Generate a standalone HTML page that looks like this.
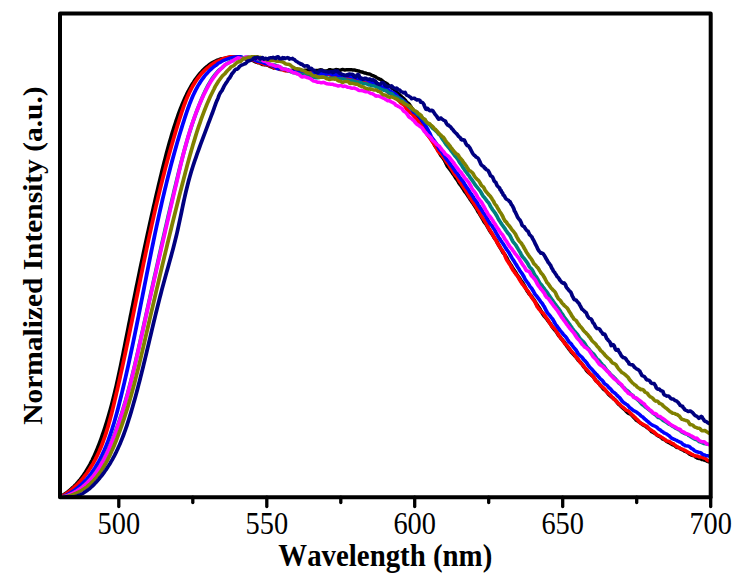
<!DOCTYPE html>
<html lang="en"><head><meta charset="utf-8"><title>Normalized Intensity vs Wavelength</title>
<style>html,body{margin:0;padding:0;background:#fff;}body{width:749px;height:581px;overflow:hidden;}svg{display:block;}</style></head>
<body>
<svg width="749" height="581" viewBox="0 0 749 581" role="img" aria-label="Normalized intensity versus wavelength spectra">
<rect x="0" y="0" width="749" height="581" fill="#ffffff"/>
<g fill="none" stroke-width="3.4" stroke-linejoin="round" stroke-linecap="round" transform="scale(1.12,1)">
<path stroke="#000000" d="M53.57,496.8 L54.24,496.6 L54.91,496.1 L55.58,495.6 L56.25,495.2 L56.92,494.7 L57.59,494.2 L58.26,493.7 L58.93,493.1 L59.60,492.6 L60.27,492.0 L60.94,491.4 L61.61,490.8 L62.28,490.2 L62.95,489.6 L63.62,488.9 L64.29,488.2 L64.96,487.5 L65.62,486.8 L66.29,486.1 L66.96,485.3 L67.63,484.6 L68.30,483.8 L68.97,482.9 L69.64,482.1 L70.31,481.2 L70.98,480.3 L71.65,479.4 L72.32,478.4 L72.99,477.5 L73.66,476.4 L74.33,475.4 L75.00,474.3 L75.67,473.2 L76.34,472.1 L77.01,470.9 L77.68,469.7 L78.35,468.4 L79.02,467.2 L79.69,465.8 L80.36,464.5 L81.03,463.0 L81.70,461.6 L82.37,460.1 L83.04,458.5 L83.71,457.0 L84.37,455.3 L85.04,453.6 L85.71,451.9 L86.38,450.1 L87.05,448.3 L87.72,446.4 L88.39,444.5 L89.06,442.5 L89.73,440.5 L90.40,438.4 L91.07,436.3 L91.74,434.1 L92.41,431.9 L93.08,429.7 L93.75,427.4 L94.42,425.1 L95.09,422.7 L95.76,420.2 L96.43,417.7 L97.10,415.1 L97.77,412.5 L98.44,409.8 L99.11,407.1 L99.78,404.3 L100.45,401.4 L101.12,398.4 L101.79,395.4 L102.46,392.3 L103.12,389.2 L103.79,386.0 L104.46,382.7 L105.13,379.3 L105.80,375.9 L106.47,372.4 L107.14,368.9 L107.81,365.3 L108.48,361.6 L109.15,357.9 L109.82,354.2 L110.49,350.4 L111.16,346.7 L111.83,342.9 L112.50,339.1 L113.17,335.3 L113.84,331.5 L114.51,327.7 L115.18,323.9 L115.85,320.2 L116.52,316.4 L117.19,312.7 L117.86,308.9 L118.53,305.2 L119.20,301.4 L119.87,297.7 L120.54,294.0 L121.21,290.3 L121.87,286.6 L122.54,283.0 L123.21,279.3 L123.88,275.7 L124.55,272.0 L125.22,268.4 L125.89,264.8 L126.56,261.2 L127.23,257.7 L127.90,254.1 L128.57,250.6 L129.24,247.1 L129.91,243.6 L130.58,240.1 L131.25,236.6 L131.92,233.2 L132.59,229.7 L133.26,226.3 L133.93,222.9 L134.60,219.5 L135.27,216.2 L135.94,212.8 L136.61,209.5 L137.28,206.2 L137.95,203.0 L138.62,199.7 L139.29,196.4 L139.96,193.2 L140.62,190.0 L141.29,186.8 L141.96,183.7 L142.63,180.5 L143.30,177.4 L143.97,174.3 L144.64,171.2 L145.31,168.2 L145.98,165.2 L146.65,162.2 L147.32,159.3 L147.99,156.4 L148.66,153.5 L149.33,150.7 L150.00,147.9 L150.67,145.2 L151.34,142.5 L152.01,139.9 L152.68,137.3 L153.35,134.8 L154.02,132.3 L154.69,129.9 L155.36,127.5 L156.03,125.2 L156.70,122.9 L157.37,120.6 L158.04,118.4 L158.71,116.2 L159.37,114.1 L160.04,112.1 L160.71,110.0 L161.38,108.1 L162.05,106.2 L162.72,104.3 L163.39,102.5 L164.06,100.8 L164.73,99.1 L165.40,97.5 L166.07,95.9 L166.74,94.3 L167.41,92.8 L168.08,91.3 L168.75,89.9 L169.42,88.5 L170.09,87.2 L170.76,85.9 L171.43,84.7 L172.10,83.4 L172.77,82.3 L173.44,81.1 L174.11,80.0 L174.78,78.9 L175.45,77.9 L176.12,76.9 L176.79,75.9 L177.46,74.9 L178.12,74.0 L178.79,73.2 L179.46,72.3 L180.13,71.5 L180.80,70.7 L181.47,69.9 L182.14,69.2 L182.81,68.5 L183.48,67.8 L184.15,67.1 L184.82,66.5 L185.49,65.9 L186.16,65.3 L186.83,64.7 L187.50,64.2 L188.17,63.7 L188.84,63.2 L189.51,62.7 L190.18,62.3 L190.85,61.9 L191.52,61.5 L192.19,61.1 L192.86,60.8 L193.53,60.4 L194.20,60.1 L194.87,59.8 L195.54,59.6 L196.21,59.3 L196.87,59.0 L197.54,58.8 L198.21,58.7 L198.88,58.7 L199.55,58.6 L200.22,58.5 L200.89,58.2 L201.56,58.0 L202.23,57.9 L202.90,57.6 L203.57,57.5 L204.24,57.3 L204.91,57.3 L205.58,57.1 L206.25,56.9 L206.92,56.8 L207.59,56.8 L208.26,56.8 L208.93,56.9 L209.60,56.9 L210.27,57.0 L210.94,56.8 L211.61,56.8 L212.28,56.8 L212.95,56.9 L213.62,57.2 L214.29,57.2 L214.96,57.3 L215.62,57.5 L216.29,58.0 L216.96,58.3 L217.63,58.5 L218.30,58.6 L218.97,58.8 L219.64,59.1 L220.31,59.5 L220.98,59.6 L221.65,59.7 L222.32,59.7 L222.99,59.6 L223.66,59.9 L224.33,60.1 L225.00,60.2 L225.67,60.5 L226.34,60.7 L227.01,61.3 L227.68,61.6 L228.35,61.9 L229.02,62.3 L229.69,62.4 L230.36,62.8 L231.03,62.6 L231.70,62.8 L232.37,63.1 L233.04,63.8 L233.71,64.1 L234.37,64.5 L235.04,64.5 L235.71,64.7 L236.38,64.6 L237.05,64.8 L237.72,64.8 L238.39,65.0 L239.06,65.2 L239.73,65.6 L240.40,66.0 L241.07,66.6 L241.74,66.7 L242.41,66.7 L243.08,67.2 L243.75,67.6 L244.42,68.0 L245.09,67.9 L245.76,67.9 L246.43,68.0 L247.10,68.3 L247.77,68.4 L248.44,68.6 L249.11,68.8 L249.78,69.3 L250.45,69.5 L251.12,69.5 L251.79,69.4 L252.46,69.5 L253.12,69.5 L253.79,69.9 L254.46,70.2 L255.13,70.5 L255.80,70.5 L256.47,70.6 L257.14,70.7 L257.81,70.9 L258.48,71.0 L259.15,71.2 L259.82,70.7 L260.49,70.3 L261.16,70.3 L261.83,70.6 L262.50,70.5 L263.17,70.5 L263.84,70.4 L264.51,70.4 L265.18,70.4 L265.85,70.8 L266.52,71.2 L267.19,71.2 L267.86,71.2 L268.53,71.0 L269.20,70.7 L269.87,70.5 L270.54,70.5 L271.21,70.5 L271.88,70.2 L272.54,70.2 L273.21,70.3 L273.88,70.3 L274.55,70.1 L275.22,70.2 L275.89,70.4 L276.56,70.6 L277.23,71.0 L277.90,71.5 L278.57,71.5 L279.24,71.3 L279.91,71.3 L280.58,71.3 L281.25,71.0 L281.92,70.4 L282.59,70.5 L283.26,70.5 L283.93,70.6 L284.60,70.4 L285.27,70.0 L285.94,69.9 L286.61,69.8 L287.28,70.0 L287.95,70.4 L288.62,70.7 L289.29,71.0 L289.96,71.0 L290.62,71.2 L291.29,71.1 L291.96,70.8 L292.63,70.5 L293.30,70.2 L293.97,69.8 L294.64,69.7 L295.31,69.9 L295.98,70.1 L296.65,70.1 L297.32,70.2 L297.99,70.2 L298.66,70.1 L299.33,69.8 L300.00,69.5 L300.67,69.6 L301.34,69.7 L302.01,69.9 L302.68,70.1 L303.35,70.2 L304.02,70.2 L304.69,69.9 L305.36,69.7 L306.03,69.5 L306.70,69.6 L307.37,69.8 L308.04,70.0 L308.71,69.9 L309.37,69.7 L310.04,69.6 L310.71,69.6 L311.38,69.8 L312.05,69.8 L312.72,69.7 L313.39,69.6 L314.06,69.7 L314.73,70.0 L315.40,69.9 L316.07,70.0 L316.74,70.0 L317.41,70.4 L318.08,70.5 L318.75,70.8 L319.42,70.8 L320.09,71.0 L320.76,71.2 L321.43,71.6 L322.10,71.9 L322.77,72.1 L323.44,71.9 L324.11,72.4 L324.78,72.6 L325.45,73.0 L326.12,73.0 L326.79,73.2 L327.46,73.6 L328.12,73.7 L328.79,73.9 L329.46,74.0 L330.13,74.2 L330.80,74.4 L331.47,75.0 L332.14,75.4 L332.81,75.6 L333.48,75.9 L334.15,76.2 L334.82,76.5 L335.49,76.9 L336.16,77.5 L336.83,78.0 L337.50,78.4 L338.17,78.6 L338.84,79.1 L339.51,79.3 L340.18,79.7 L340.85,80.3 L341.52,81.0 L342.19,81.6 L342.86,82.2 L343.53,82.6 L344.20,82.9 L344.87,83.3 L345.54,83.8 L346.21,84.5 L346.87,85.3 L347.54,86.1 L348.21,86.2 L348.88,86.6 L349.55,87.5 L350.22,88.3 L350.89,88.9 L351.56,89.3 L352.23,89.7 L352.90,90.5 L353.57,91.3 L354.24,92.3 L354.91,92.9 L355.58,93.7 L356.25,94.3 L356.92,95.2 L357.59,95.6 L358.26,96.6 L358.93,97.2 L359.60,97.9 L360.27,98.4 L360.94,99.2 L361.61,99.9 L362.28,101.0 L362.95,101.8 L363.62,102.7 L364.29,103.1 L364.96,103.7 L365.62,104.7 L366.29,105.8 L366.96,106.9 L367.63,108.2 L368.30,109.1 L368.97,110.2 L369.64,111.5 L370.31,112.7 L370.98,113.8 L371.65,114.5 L372.32,116.0 L372.99,117.1 L373.66,118.1 L374.33,119.1 L375.00,120.4 L375.67,121.6 L376.34,122.8 L377.01,123.7 L377.68,125.1 L378.35,126.4 L379.02,127.7 L379.69,128.9 L380.36,130.0 L381.03,131.7 L381.70,133.1 L382.37,134.3 L383.04,135.6 L383.71,136.8 L384.37,137.9 L385.04,138.9 L385.71,140.2 L386.38,141.4 L387.05,142.8 L387.72,144.2 L388.39,145.8 L389.06,147.0 L389.73,147.9 L390.40,148.9 L391.07,150.1 L391.74,151.3 L392.41,152.8 L393.08,154.3 L393.75,155.6 L394.42,156.5 L395.09,157.3 L395.76,158.4 L396.43,159.5 L397.10,160.7 L397.77,162.2 L398.44,163.9 L399.11,165.4 L399.78,166.7 L400.45,167.6 L401.12,168.6 L401.79,169.5 L402.46,170.5 L403.12,171.6 L403.79,172.6 L404.46,173.9 L405.13,174.9 L405.80,175.9 L406.47,177.1 L407.14,178.3 L407.81,179.4 L408.48,180.4 L409.15,181.5 L409.82,183.2 L410.49,184.0 L411.16,185.1 L411.83,186.0 L412.50,187.2 L413.17,188.3 L413.84,189.3 L414.51,190.7 L415.18,191.8 L415.85,192.6 L416.52,193.7 L417.19,194.7 L417.86,196.0 L418.53,197.0 L419.20,198.1 L419.87,199.5 L420.54,200.4 L421.21,201.6 L421.87,202.7 L422.54,203.6 L423.21,204.8 L423.88,205.9 L424.55,207.2 L425.22,208.3 L425.89,209.5 L426.56,211.1 L427.23,212.3 L427.90,213.3 L428.57,214.6 L429.24,215.8 L429.91,217.2 L430.58,218.5 L431.25,219.7 L431.92,221.1 L432.59,222.3 L433.26,223.3 L433.93,224.2 L434.60,225.3 L435.27,226.7 L435.94,228.1 L436.61,229.2 L437.28,230.7 L437.95,231.7 L438.62,233.1 L439.29,234.0 L439.96,235.2 L440.62,236.3 L441.29,237.8 L441.96,238.9 L442.63,239.9 L443.30,240.7 L443.97,242.5 L444.64,243.9 L445.31,245.1 L445.98,246.4 L446.65,247.7 L447.32,249.0 L447.99,250.2 L448.66,251.6 L449.33,252.9 L450.00,253.7 L450.67,254.5 L451.34,255.8 L452.01,257.0 L452.68,258.5 L453.35,260.0 L454.02,261.3 L454.69,262.4 L455.36,263.8 L456.03,264.9 L456.70,266.0 L457.37,267.3 L458.04,268.5 L458.71,269.7 L459.37,270.7 L460.04,271.8 L460.71,273.1 L461.38,274.4 L462.05,275.4 L462.72,276.6 L463.39,277.4 L464.06,278.6 L464.73,279.8 L465.40,281.0 L466.07,282.1 L466.74,283.0 L467.41,284.1 L468.08,285.6 L468.75,286.9 L469.42,288.3 L470.09,289.5 L470.76,291.0 L471.43,292.0 L472.10,293.2 L472.77,294.2 L473.44,294.9 L474.11,295.7 L474.78,296.8 L475.45,298.0 L476.12,298.9 L476.79,299.8 L477.46,301.1 L478.12,302.3 L478.79,303.6 L479.46,304.8 L480.13,305.8 L480.80,307.0 L481.47,308.1 L482.14,309.2 L482.81,310.6 L483.48,311.7 L484.15,313.1 L484.82,314.3 L485.49,315.5 L486.16,316.4 L486.83,317.2 L487.50,318.1 L488.17,319.1 L488.84,320.0 L489.51,321.1 L490.18,322.1 L490.85,323.1 L491.52,324.0 L492.19,325.2 L492.86,326.4 L493.53,327.5 L494.20,328.4 L494.87,329.4 L495.54,330.3 L496.21,331.2 L496.87,331.9 L497.54,333.1 L498.21,334.4 L498.88,335.6 L499.55,336.4 L500.22,337.2 L500.89,338.4 L501.56,339.3 L502.23,340.0 L502.90,341.1 L503.57,341.8 L504.24,342.8 L504.91,344.0 L505.58,345.1 L506.25,346.3 L506.92,347.1 L507.59,348.3 L508.26,349.4 L508.93,350.2 L509.60,351.2 L510.27,352.3 L510.94,353.0 L511.61,353.8 L512.28,354.6 L512.95,355.5 L513.62,356.2 L514.29,356.9 L514.96,358.0 L515.62,359.0 L516.29,360.2 L516.96,360.9 L517.63,361.6 L518.30,362.4 L518.97,363.2 L519.64,364.0 L520.31,365.2 L520.98,366.4 L521.65,367.3 L522.32,368.0 L522.99,369.2 L523.66,370.4 L524.33,371.3 L525.00,372.0 L525.67,372.8 L526.34,373.4 L527.01,374.1 L527.68,374.7 L528.35,375.5 L529.02,376.1 L529.69,376.8 L530.36,377.6 L531.03,379.1 L531.70,380.0 L532.37,381.0 L533.04,381.4 L533.71,382.2 L534.38,383.0 L535.04,383.9 L535.71,384.9 L536.38,385.8 L537.05,386.7 L537.72,387.6 L538.39,388.6 L539.06,389.3 L539.73,390.0 L540.40,390.5 L541.07,391.1 L541.74,391.9 L542.41,392.9 L543.08,393.9 L543.75,394.8 L544.42,395.4 L545.09,396.2 L545.76,396.7 L546.43,397.3 L547.10,397.8 L547.77,398.5 L548.44,399.2 L549.11,399.8 L549.78,400.7 L550.45,401.4 L551.12,402.5 L551.79,403.5 L552.46,404.3 L553.12,405.0 L553.79,405.5 L554.46,406.3 L555.13,407.1 L555.80,407.8 L556.47,408.4 L557.14,409.0 L557.81,409.7 L558.48,410.5 L559.15,411.3 L559.82,412.0 L560.49,412.7 L561.16,413.4 L561.83,413.7 L562.50,413.9 L563.17,414.4 L563.84,414.9 L564.51,415.7 L565.18,416.6 L565.85,417.3 L566.52,418.1 L567.19,418.9 L567.86,419.9 L568.53,420.5 L569.20,420.9 L569.87,421.4 L570.54,422.0 L571.21,422.4 L571.88,423.1 L572.54,423.6 L573.21,424.2 L573.88,424.8 L574.55,425.2 L575.22,425.7 L575.89,425.9 L576.56,426.4 L577.23,427.0 L577.90,427.7 L578.57,428.1 L579.24,428.7 L579.91,429.2 L580.58,430.1 L581.25,430.7 L581.92,431.7 L582.59,432.1 L583.26,432.3 L583.93,432.9 L584.60,433.4 L585.27,433.9 L585.94,434.3 L586.61,435.1 L587.28,435.6 L587.95,436.1 L588.62,436.5 L589.29,436.8 L589.96,437.2 L590.62,437.9 L591.29,438.5 L591.96,439.2 L592.63,439.4 L593.30,439.8 L593.97,440.0 L594.64,440.8 L595.31,441.5 L595.98,442.0 L596.65,442.3 L597.32,442.7 L597.99,443.0 L598.66,443.6 L599.33,444.0 L600.00,444.5 L600.67,444.7 L601.34,445.2 L602.01,445.4 L602.68,445.8 L603.35,446.6 L604.02,447.2 L604.69,447.6 L605.36,447.4 L606.03,447.6 L606.70,448.0 L607.37,448.5 L608.04,449.2 L608.71,449.6 L609.37,449.8 L610.04,450.2 L610.71,450.5 L611.38,451.2 L612.05,451.5 L612.72,451.8 L613.39,452.0 L614.06,452.6 L614.73,453.2 L615.40,453.8 L616.07,454.4 L616.74,454.6 L617.41,455.1 L618.08,455.3 L618.75,455.5 L619.42,455.7 L620.09,455.9 L620.76,456.6 L621.43,457.4 L622.10,457.6 L622.77,458.2 L623.44,458.4 L624.11,458.5 L624.78,458.6 L625.45,458.7 L626.12,459.1 L626.79,459.6 L627.46,459.5 L628.12,459.8 L628.79,460.0 L629.46,460.3 L630.13,460.5 L630.80,460.9 L631.47,461.3 L632.14,461.5 L632.81,461.6 L633.48,462.1"/>
<path stroke="#ff0000" d="M54.46,496.8 L55.13,496.5 L55.80,496.1 L56.47,495.6 L57.14,495.1 L57.81,494.6 L58.48,494.1 L59.15,493.6 L59.82,493.1 L60.49,492.5 L61.16,491.9 L61.83,491.4 L62.50,490.8 L63.17,490.2 L63.84,489.6 L64.51,488.9 L65.18,488.3 L65.85,487.6 L66.52,487.0 L67.19,486.3 L67.86,485.6 L68.53,484.9 L69.20,484.1 L69.87,483.4 L70.54,482.6 L71.21,481.8 L71.88,481.0 L72.54,480.1 L73.21,479.3 L73.88,478.4 L74.55,477.5 L75.22,476.5 L75.89,475.6 L76.56,474.6 L77.23,473.6 L77.90,472.6 L78.57,471.5 L79.24,470.4 L79.91,469.3 L80.58,468.1 L81.25,466.9 L81.92,465.7 L82.59,464.5 L83.26,463.2 L83.93,461.8 L84.60,460.4 L85.27,459.0 L85.94,457.5 L86.61,456.0 L87.28,454.4 L87.95,452.8 L88.62,451.2 L89.29,449.4 L89.96,447.6 L90.62,445.8 L91.29,443.9 L91.96,441.9 L92.63,439.8 L93.30,437.7 L93.97,435.5 L94.64,433.2 L95.31,430.8 L95.98,428.4 L96.65,425.8 L97.32,423.2 L97.99,420.5 L98.66,417.7 L99.33,414.8 L100.00,411.9 L100.67,408.9 L101.34,405.8 L102.01,402.6 L102.68,399.5 L103.35,396.3 L104.02,393.0 L104.69,389.8 L105.36,386.5 L106.03,383.2 L106.70,379.8 L107.37,376.4 L108.04,373.0 L108.71,369.6 L109.37,366.2 L110.04,362.7 L110.71,359.2 L111.38,355.7 L112.05,352.1 L112.72,348.6 L113.39,345.0 L114.06,341.4 L114.73,337.7 L115.40,334.1 L116.07,330.4 L116.74,326.8 L117.41,323.1 L118.08,319.4 L118.75,315.7 L119.42,312.0 L120.09,308.3 L120.76,304.5 L121.43,300.8 L122.10,297.1 L122.77,293.4 L123.44,289.6 L124.11,285.9 L124.78,282.2 L125.45,278.5 L126.12,274.8 L126.79,271.1 L127.46,267.5 L128.12,263.8 L128.79,260.2 L129.46,256.6 L130.13,253.0 L130.80,249.4 L131.47,245.9 L132.14,242.3 L132.81,238.8 L133.48,235.3 L134.15,231.9 L134.82,228.4 L135.49,225.0 L136.16,221.7 L136.83,218.3 L137.50,215.0 L138.17,211.7 L138.84,208.4 L139.51,205.2 L140.18,202.0 L140.85,198.8 L141.52,195.7 L142.19,192.6 L142.86,189.5 L143.53,186.4 L144.20,183.4 L144.87,180.4 L145.54,177.4 L146.21,174.5 L146.88,171.6 L147.54,168.7 L148.21,165.9 L148.88,163.0 L149.55,160.2 L150.22,157.5 L150.89,154.7 L151.56,152.0 L152.23,149.4 L152.90,146.7 L153.57,144.1 L154.24,141.5 L154.91,138.9 L155.58,136.3 L156.25,133.8 L156.92,131.3 L157.59,128.8 L158.26,126.3 L158.93,123.9 L159.60,121.5 L160.27,119.1 L160.94,116.7 L161.61,114.4 L162.28,112.1 L162.95,109.9 L163.62,107.7 L164.29,105.6 L164.96,103.6 L165.62,101.6 L166.29,99.7 L166.96,97.9 L167.63,96.1 L168.30,94.5 L168.97,92.8 L169.64,91.3 L170.31,89.8 L170.98,88.3 L171.65,87.0 L172.32,85.6 L172.99,84.4 L173.66,83.1 L174.33,82.0 L175.00,80.8 L175.67,79.7 L176.34,78.7 L177.01,77.7 L177.68,76.7 L178.35,75.8 L179.02,74.9 L179.69,74.0 L180.36,73.2 L181.03,72.4 L181.70,71.6 L182.37,70.8 L183.04,70.1 L183.71,69.4 L184.37,68.8 L185.04,68.1 L185.71,67.5 L186.38,66.9 L187.05,66.3 L187.72,65.7 L188.39,65.2 L189.06,64.7 L189.73,64.1 L190.40,63.6 L191.07,63.1 L191.74,62.6 L192.41,62.1 L193.08,61.7 L193.75,61.4 L194.42,61.1 L195.09,60.8 L195.76,60.4 L196.43,60.1 L197.10,59.8 L197.77,59.4 L198.44,59.1 L199.11,58.6 L199.78,58.3 L200.45,58.1 L201.12,58.1 L201.79,57.9 L202.46,57.6 L203.12,57.4 L203.79,57.3 L204.46,57.1 L205.13,56.9 L205.80,56.8 L206.47,56.8 L207.14,56.8 L207.81,56.8 L208.48,56.8 L209.15,56.9 L209.82,56.9 L210.49,57.0 L211.16,57.1 L211.83,57.3 L212.50,57.6 L213.17,57.7 L213.84,57.7 L214.51,57.8 L215.18,57.9 L215.85,58.1 L216.52,58.2 L217.19,58.1 L217.86,58.1 L218.53,58.2 L219.20,58.5 L219.87,58.9 L220.54,59.0 L221.21,59.1 L221.87,59.2 L222.54,59.4 L223.21,59.6 L223.88,59.6 L224.55,59.9 L225.22,60.0 L225.89,60.1 L226.56,60.4 L227.23,60.5 L227.90,60.9 L228.57,61.2 L229.24,61.7 L229.91,62.1 L230.58,62.4 L231.25,62.6 L231.92,62.8 L232.59,62.8 L233.26,63.2 L233.93,63.4 L234.60,63.8 L235.27,64.2 L235.94,64.5 L236.61,64.6 L237.28,64.6 L237.95,64.6 L238.62,64.7 L239.29,64.9 L239.96,65.3 L240.62,65.7 L241.29,65.8 L241.96,65.9 L242.63,66.1 L243.30,66.3 L243.97,67.0 L244.64,67.7 L245.31,68.0 L245.98,68.0 L246.65,67.9 L247.32,68.1 L247.99,68.2 L248.66,68.5 L249.33,69.0 L250.00,69.1 L250.67,69.4 L251.34,69.4 L252.01,69.7 L252.68,69.9 L253.35,70.3 L254.02,70.6 L254.69,70.7 L255.36,70.8 L256.03,70.9 L256.70,70.6 L257.37,70.5 L258.04,70.7 L258.71,70.6 L259.38,70.9 L260.04,71.0 L260.71,71.6 L261.38,71.8 L262.05,71.8 L262.72,71.8 L263.39,71.9 L264.06,71.9 L264.73,72.3 L265.40,72.0 L266.07,72.2 L266.74,72.5 L267.41,72.6 L268.08,72.7 L268.75,72.6 L269.42,72.6 L270.09,73.0 L270.76,73.2 L271.43,73.4 L272.10,73.4 L272.77,73.2 L273.44,73.6 L274.11,73.5 L274.78,73.5 L275.45,73.3 L276.12,73.1 L276.79,73.1 L277.46,72.8 L278.12,72.9 L278.79,73.1 L279.46,73.5 L280.13,73.9 L280.80,73.8 L281.47,73.4 L282.14,73.5 L282.81,73.2 L283.48,73.7 L284.15,73.7 L284.82,74.0 L285.49,73.8 L286.16,73.5 L286.83,73.7 L287.50,73.8 L288.17,73.9 L288.84,73.9 L289.51,73.7 L290.18,74.0 L290.85,74.0 L291.52,74.1 L292.19,74.4 L292.86,74.6 L293.53,74.6 L294.20,74.6 L294.87,74.9 L295.54,75.8 L296.21,75.9 L296.88,76.0 L297.54,76.1 L298.21,76.4 L298.88,76.3 L299.55,76.1 L300.22,76.3 L300.89,76.4 L301.56,76.5 L302.23,76.7 L302.90,76.9 L303.57,76.8 L304.24,76.8 L304.91,76.5 L305.58,76.9 L306.25,77.1 L306.92,77.4 L307.59,77.5 L308.26,77.4 L308.93,77.3 L309.60,77.3 L310.27,77.3 L310.94,77.4 L311.61,77.6 L312.28,78.0 L312.95,78.1 L313.62,78.3 L314.29,78.5 L314.96,79.0 L315.62,79.5 L316.29,79.6 L316.96,79.9 L317.63,79.8 L318.30,79.6 L318.97,79.9 L319.64,80.3 L320.31,80.3 L320.98,80.3 L321.65,80.1 L322.32,80.4 L322.99,80.7 L323.66,80.8 L324.33,81.1 L325.00,81.4 L325.67,81.5 L326.34,82.0 L327.01,82.0 L327.68,82.1 L328.35,82.2 L329.02,82.4 L329.69,82.9 L330.36,83.4 L331.03,83.6 L331.70,83.7 L332.37,83.6 L333.04,84.0 L333.71,84.4 L334.37,84.6 L335.04,84.8 L335.71,85.0 L336.38,84.9 L337.05,85.3 L337.72,85.7 L338.39,86.3 L339.06,86.6 L339.73,86.9 L340.40,87.5 L341.07,87.9 L341.74,88.3 L342.41,88.9 L343.08,89.2 L343.75,89.8 L344.42,90.5 L345.09,91.0 L345.76,91.7 L346.43,92.2 L347.10,92.9 L347.77,93.7 L348.44,93.9 L349.11,94.3 L349.78,94.5 L350.45,95.0 L351.12,95.8 L351.79,96.8 L352.46,97.7 L353.12,98.5 L353.79,98.9 L354.46,99.3 L355.13,99.9 L355.80,100.3 L356.47,101.2 L357.14,102.0 L357.81,102.8 L358.48,103.3 L359.15,103.8 L359.82,104.3 L360.49,104.8 L361.16,105.6 L361.83,106.6 L362.50,107.9 L363.17,109.0 L363.84,110.1 L364.51,110.9 L365.18,111.7 L365.85,112.3 L366.52,112.8 L367.19,113.4 L367.86,114.1 L368.53,114.6 L369.20,115.5 L369.87,116.3 L370.54,117.5 L371.21,118.4 L371.87,119.2 L372.54,120.0 L373.21,120.9 L373.88,122.1 L374.55,123.2 L375.22,124.2 L375.89,125.1 L376.56,126.0 L377.23,127.3 L377.90,128.7 L378.57,129.8 L379.24,130.8 L379.91,131.8 L380.58,133.2 L381.25,134.4 L381.92,135.4 L382.59,136.2 L383.26,137.2 L383.93,138.1 L384.60,139.3 L385.27,140.3 L385.94,141.5 L386.61,142.6 L387.28,143.6 L387.95,144.9 L388.62,145.9 L389.29,147.1 L389.96,148.5 L390.62,150.2 L391.29,151.4 L391.96,152.2 L392.63,152.9 L393.30,153.8 L393.97,154.4 L394.64,155.2 L395.31,156.4 L395.98,157.4 L396.65,158.3 L397.32,159.3 L397.99,160.7 L398.66,161.9 L399.33,162.8 L400.00,163.6 L400.67,164.7 L401.34,165.9 L402.01,167.3 L402.68,168.5 L403.35,169.5 L404.02,170.5 L404.69,171.9 L405.36,173.1 L406.03,174.4 L406.70,175.4 L407.37,176.2 L408.04,176.8 L408.71,178.0 L409.37,179.5 L410.04,180.9 L410.71,182.1 L411.38,183.0 L412.05,184.2 L412.72,185.2 L413.39,186.4 L414.06,187.7 L414.73,188.8 L415.40,189.7 L416.07,190.9 L416.74,192.2 L417.41,193.6 L418.08,194.7 L418.75,196.0 L419.42,197.5 L420.09,198.3 L420.76,199.3 L421.43,200.4 L422.10,201.7 L422.77,202.8 L423.44,203.9 L424.11,205.1 L424.78,206.2 L425.45,207.3 L426.12,208.8 L426.79,209.8 L427.46,210.9 L428.12,212.4 L428.79,214.0 L429.46,215.4 L430.13,216.3 L430.80,217.6 L431.47,218.7 L432.14,219.7 L432.81,221.0 L433.48,222.3 L434.15,223.5 L434.82,224.9 L435.49,226.4 L436.16,228.0 L436.83,229.3 L437.50,230.3 L438.17,231.6 L438.84,232.6 L439.51,233.8 L440.18,235.3 L440.85,236.6 L441.52,237.8 L442.19,239.1 L442.86,240.3 L443.53,241.8 L444.20,243.1 L444.87,244.4 L445.54,245.6 L446.21,246.8 L446.87,248.1 L447.54,249.1 L448.21,250.1 L448.88,251.1 L449.55,252.5 L450.22,253.8 L450.89,255.7 L451.56,257.6 L452.23,259.3 L452.90,260.6 L453.57,261.7 L454.24,262.9 L454.91,264.1 L455.58,265.1 L456.25,266.6 L456.92,267.9 L457.59,269.2 L458.26,270.6 L458.93,271.3 L459.60,272.6 L460.27,273.4 L460.94,274.7 L461.61,275.6 L462.28,276.5 L462.95,277.8 L463.62,279.1 L464.29,280.3 L464.96,281.6 L465.62,282.7 L466.29,284.0 L466.96,284.7 L467.63,285.6 L468.30,286.8 L468.97,287.7 L469.64,288.8 L470.31,289.8 L470.98,290.7 L471.65,291.6 L472.32,292.8 L472.99,294.2 L473.66,295.6 L474.33,296.6 L475.00,297.9 L475.67,298.9 L476.34,299.8 L477.01,300.7 L477.68,302.1 L478.35,303.5 L479.02,305.1 L479.69,306.8 L480.36,307.7 L481.03,308.8 L481.70,309.6 L482.37,310.6 L483.04,311.6 L483.71,312.3 L484.37,312.7 L485.04,313.3 L485.71,314.2 L486.38,315.5 L487.05,316.6 L487.72,317.7 L488.39,318.6 L489.06,319.7 L489.73,321.0 L490.40,322.1 L491.07,323.4 L491.74,324.5 L492.41,325.7 L493.08,326.8 L493.75,327.3 L494.42,328.0 L495.09,328.6 L495.76,329.4 L496.43,330.7 L497.10,332.0 L497.77,333.1 L498.44,334.2 L499.11,335.6 L499.78,336.8 L500.45,337.8 L501.12,338.6 L501.79,339.5 L502.46,340.3 L503.12,341.5 L503.79,342.7 L504.46,343.8 L505.13,344.5 L505.80,345.1 L506.47,345.8 L507.14,346.8 L507.81,347.7 L508.48,348.7 L509.15,349.8 L509.82,350.9 L510.49,351.7 L511.16,352.5 L511.83,353.2 L512.50,354.0 L513.17,354.9 L513.84,356.1 L514.51,357.3 L515.18,358.2 L515.85,358.8 L516.52,359.7 L517.19,361.0 L517.86,362.1 L518.53,363.1 L519.20,363.6 L519.87,364.3 L520.54,365.1 L521.21,366.1 L521.88,367.4 L522.54,368.1 L523.21,368.9 L523.88,369.5 L524.55,370.4 L525.22,371.3 L525.89,372.4 L526.56,373.5 L527.23,374.1 L527.90,374.6 L528.57,375.3 L529.24,376.1 L529.91,377.0 L530.58,378.0 L531.25,379.4 L531.92,380.5 L532.59,381.2 L533.26,382.1 L533.93,382.7 L534.60,383.6 L535.27,384.2 L535.94,385.2 L536.61,385.9 L537.28,386.4 L537.95,387.0 L538.62,387.7 L539.29,388.4 L539.96,389.2 L540.62,390.1 L541.29,391.3 L541.96,392.2 L542.63,392.8 L543.30,393.6 L543.97,394.2 L544.64,394.7 L545.31,395.4 L545.98,396.3 L546.65,397.4 L547.32,398.2 L547.99,399.1 L548.66,399.7 L549.33,400.2 L550.00,401.0 L550.67,401.9 L551.34,402.6 L552.01,403.3 L552.68,403.7 L553.35,404.5 L554.02,405.2 L554.69,406.0 L555.36,406.6 L556.03,407.1 L556.70,407.7 L557.37,408.4 L558.04,409.2 L558.71,409.9 L559.38,410.4 L560.04,410.4 L560.71,410.9 L561.38,411.3 L562.05,412.2 L562.72,413.0 L563.39,413.8 L564.06,414.5 L564.73,415.2 L565.40,415.8 L566.07,416.5 L566.74,417.3 L567.41,418.0 L568.08,418.7 L568.75,419.3 L569.42,420.1 L570.09,421.0 L570.76,421.9 L571.43,422.7 L572.10,423.2 L572.77,423.4 L573.44,423.9 L574.11,424.4 L574.78,424.7 L575.45,425.2 L576.12,425.7 L576.79,426.0 L577.46,426.2 L578.12,426.9 L578.79,428.0 L579.46,428.9 L580.13,429.4 L580.80,429.7 L581.47,430.1 L582.14,430.7 L582.81,431.1 L583.48,431.7 L584.15,432.2 L584.82,432.9 L585.49,433.7 L586.16,434.4 L586.83,435.1 L587.50,435.4 L588.17,435.5 L588.84,436.0 L589.51,436.4 L590.18,437.0 L590.85,437.3 L591.52,437.8 L592.19,438.4 L592.86,438.8 L593.53,439.3 L594.20,440.1 L594.87,440.8 L595.54,441.1 L596.21,441.1 L596.88,441.2 L597.54,441.5 L598.21,441.8 L598.88,442.6 L599.55,443.1 L600.22,443.4 L600.89,443.4 L601.56,444.2 L602.23,444.9 L602.90,445.4 L603.57,445.8 L604.24,446.6 L604.91,447.0 L605.58,447.2 L606.25,447.5 L606.92,448.2 L607.59,448.6 L608.26,448.7 L608.93,449.0 L609.60,449.4 L610.27,449.7 L610.94,450.0 L611.61,450.4 L612.28,450.8 L612.95,451.5 L613.62,451.8 L614.29,452.3 L614.96,452.6 L615.62,452.9 L616.29,453.4 L616.96,453.9 L617.63,454.2 L618.30,454.6 L618.97,454.9 L619.64,455.5 L620.31,455.9 L620.98,456.0 L621.65,455.9 L622.32,455.9 L622.99,456.1 L623.66,456.6 L624.33,457.0 L625.00,456.9 L625.67,456.9 L626.34,457.1 L627.01,457.3 L627.68,457.6 L628.35,458.1 L629.02,458.1 L629.69,458.5 L630.36,458.9 L631.03,459.9 L631.70,460.3 L632.37,460.7 L633.04,460.7 L633.71,460.9"/>
<path stroke="#0000ff" d="M55.36,496.8 L56.03,496.7 L56.70,496.4 L57.37,496.0 L58.04,495.7 L58.71,495.3 L59.37,495.0 L60.04,494.6 L60.71,494.2 L61.38,493.8 L62.05,493.4 L62.72,492.9 L63.39,492.5 L64.06,492.0 L64.73,491.5 L65.40,491.0 L66.07,490.5 L66.74,490.0 L67.41,489.4 L68.08,488.9 L68.75,488.3 L69.42,487.7 L70.09,487.1 L70.76,486.5 L71.43,485.8 L72.10,485.1 L72.77,484.4 L73.44,483.7 L74.11,483.0 L74.78,482.2 L75.45,481.5 L76.12,480.7 L76.79,479.8 L77.46,479.0 L78.12,478.1 L78.79,477.2 L79.46,476.3 L80.13,475.3 L80.80,474.4 L81.47,473.4 L82.14,472.3 L82.81,471.3 L83.48,470.2 L84.15,469.0 L84.82,467.9 L85.49,466.7 L86.16,465.4 L86.83,464.1 L87.50,462.8 L88.17,461.5 L88.84,460.1 L89.51,458.7 L90.18,457.2 L90.85,455.7 L91.52,454.1 L92.19,452.5 L92.86,450.8 L93.53,449.1 L94.20,447.3 L94.87,445.5 L95.54,443.6 L96.21,441.7 L96.87,439.7 L97.54,437.6 L98.21,435.5 L98.88,433.3 L99.55,431.0 L100.22,428.7 L100.89,426.3 L101.56,423.9 L102.23,421.3 L102.90,418.7 L103.57,416.0 L104.24,413.3 L104.91,410.5 L105.58,407.6 L106.25,404.7 L106.92,401.7 L107.59,398.6 L108.26,395.6 L108.93,392.5 L109.60,389.3 L110.27,386.2 L110.94,383.0 L111.61,379.7 L112.28,376.5 L112.95,373.2 L113.62,369.8 L114.29,366.5 L114.96,363.1 L115.62,359.6 L116.29,356.2 L116.96,352.6 L117.63,349.1 L118.30,345.6 L118.97,342.0 L119.64,338.4 L120.31,334.7 L120.98,331.0 L121.65,327.4 L122.32,323.6 L122.99,319.9 L123.66,316.2 L124.33,312.4 L125.00,308.6 L125.67,304.8 L126.34,301.0 L127.01,297.2 L127.68,293.4 L128.35,289.6 L129.02,285.8 L129.69,282.0 L130.36,278.2 L131.03,274.4 L131.70,270.6 L132.37,266.9 L133.04,263.1 L133.71,259.4 L134.38,255.7 L135.04,251.9 L135.71,248.3 L136.38,244.6 L137.05,241.0 L137.72,237.4 L138.39,233.8 L139.06,230.2 L139.73,226.7 L140.40,223.2 L141.07,219.8 L141.74,216.4 L142.41,213.0 L143.08,209.6 L143.75,206.3 L144.42,203.0 L145.09,199.7 L145.76,196.5 L146.43,193.3 L147.10,190.2 L147.77,187.1 L148.44,184.0 L149.11,180.9 L149.78,177.9 L150.45,174.9 L151.12,172.0 L151.79,169.1 L152.46,166.2 L153.12,163.4 L153.79,160.5 L154.46,157.8 L155.13,155.0 L155.80,152.3 L156.47,149.6 L157.14,147.0 L157.81,144.3 L158.48,141.7 L159.15,139.2 L159.82,136.6 L160.49,134.1 L161.16,131.6 L161.83,129.2 L162.50,126.8 L163.17,124.4 L163.84,122.0 L164.51,119.6 L165.18,117.3 L165.85,115.0 L166.52,112.8 L167.19,110.6 L167.86,108.4 L168.53,106.4 L169.20,104.3 L169.87,102.4 L170.54,100.5 L171.21,98.7 L171.87,96.9 L172.54,95.2 L173.21,93.6 L173.88,92.0 L174.55,90.5 L175.22,89.1 L175.89,87.7 L176.56,86.3 L177.23,85.0 L177.90,83.8 L178.57,82.6 L179.24,81.4 L179.91,80.3 L180.58,79.2 L181.25,78.2 L181.92,77.2 L182.59,76.2 L183.26,75.3 L183.93,74.4 L184.60,73.6 L185.27,72.8 L185.94,72.0 L186.61,71.2 L187.28,70.4 L187.95,69.7 L188.62,69.0 L189.29,68.3 L189.96,67.7 L190.62,67.1 L191.29,66.5 L191.96,65.9 L192.63,65.5 L193.30,64.9 L193.97,64.3 L194.64,63.6 L195.31,63.0 L195.98,62.7 L196.65,62.4 L197.32,62.0 L197.99,61.5 L198.66,61.0 L199.33,60.6 L200.00,60.4 L200.67,60.0 L201.34,59.9 L202.01,59.5 L202.68,59.1 L203.35,58.8 L204.02,58.6 L204.69,58.3 L205.36,58.1 L206.03,57.9 L206.70,57.9 L207.37,57.6 L208.04,57.3 L208.71,57.1 L209.37,57.1 L210.04,57.1 L210.71,56.9 L211.38,56.9 L212.05,56.9 L212.72,56.8 L213.39,56.8 L214.06,56.8 L214.73,56.8 L215.40,56.9 L216.07,57.1 L216.74,57.6 L217.41,57.6 L218.08,57.6 L218.75,57.5 L219.42,57.5 L220.09,57.5 L220.76,57.8 L221.43,57.8 L222.10,58.3 L222.77,58.5 L223.44,58.8 L224.11,59.1 L224.78,59.4 L225.45,59.4 L226.12,59.6 L226.79,59.8 L227.46,60.0 L228.12,60.5 L228.79,60.8 L229.46,61.1 L230.13,61.2 L230.80,61.4 L231.47,61.6 L232.14,61.7 L232.81,61.8 L233.48,62.2 L234.15,62.4 L234.82,62.4 L235.49,63.0 L236.16,63.3 L236.83,63.6 L237.50,63.9 L238.17,63.9 L238.84,64.0 L239.51,64.0 L240.18,64.5 L240.85,64.9 L241.52,65.0 L242.19,65.3 L242.86,65.5 L243.53,65.8 L244.20,66.2 L244.87,66.6 L245.54,67.0 L246.21,67.3 L246.87,68.1 L247.54,68.7 L248.21,68.9 L248.88,68.8 L249.55,68.6 L250.22,68.5 L250.89,68.6 L251.56,68.9 L252.23,69.1 L252.90,69.2 L253.57,69.2 L254.24,69.5 L254.91,69.6 L255.58,69.6 L256.25,69.7 L256.92,70.0 L257.59,70.2 L258.26,70.3 L258.93,70.5 L259.60,70.8 L260.27,70.8 L260.94,71.2 L261.61,71.6 L262.28,71.7 L262.95,71.7 L263.62,71.6 L264.29,72.1 L264.96,72.2 L265.62,72.1 L266.29,72.4 L266.96,72.5 L267.63,72.6 L268.30,72.5 L268.97,72.3 L269.64,72.4 L270.31,72.7 L270.98,72.9 L271.65,73.1 L272.32,73.1 L272.99,73.0 L273.66,73.0 L274.33,72.9 L275.00,73.3 L275.67,73.6 L276.34,73.3 L277.01,73.4 L277.68,73.4 L278.35,73.3 L279.02,73.4 L279.69,73.2 L280.36,73.3 L281.03,73.1 L281.70,72.8 L282.37,72.9 L283.04,73.2 L283.71,73.6 L284.38,73.8 L285.04,73.9 L285.71,73.8 L286.38,73.8 L287.05,73.6 L287.72,73.8 L288.39,73.6 L289.06,73.8 L289.73,73.9 L290.40,74.2 L291.07,74.1 L291.74,74.1 L292.41,73.7 L293.08,73.7 L293.75,73.5 L294.42,73.8 L295.09,73.8 L295.76,74.1 L296.43,74.8 L297.10,74.9 L297.77,74.5 L298.44,74.2 L299.11,74.0 L299.78,74.4 L300.45,74.5 L301.12,75.0 L301.79,75.3 L302.46,75.4 L303.12,75.7 L303.79,75.7 L304.46,75.5 L305.13,75.5 L305.80,75.5 L306.47,75.7 L307.14,75.6 L307.81,75.9 L308.48,76.0 L309.15,75.8 L309.82,75.9 L310.49,75.8 L311.16,76.0 L311.83,76.1 L312.50,76.2 L313.17,76.4 L313.84,76.5 L314.51,76.7 L315.18,77.2 L315.85,77.0 L316.52,77.5 L317.19,77.4 L317.86,77.9 L318.53,78.1 L319.20,78.4 L319.87,78.4 L320.54,78.7 L321.21,78.9 L321.87,79.2 L322.54,79.2 L323.21,79.3 L323.88,79.2 L324.55,79.4 L325.22,79.5 L325.89,79.6 L326.56,79.6 L327.23,79.7 L327.90,80.0 L328.57,80.4 L329.24,80.5 L329.91,81.2 L330.58,81.6 L331.25,82.1 L331.92,82.1 L332.59,82.5 L333.26,82.7 L333.93,83.2 L334.60,83.3 L335.27,83.7 L335.94,83.8 L336.61,84.2 L337.28,84.5 L337.95,84.8 L338.62,85.0 L339.29,85.6 L339.96,86.0 L340.62,86.7 L341.29,86.9 L341.96,87.4 L342.63,87.8 L343.30,87.9 L343.97,88.3 L344.64,88.7 L345.31,89.0 L345.98,89.4 L346.65,89.7 L347.32,90.5 L347.99,91.0 L348.66,91.2 L349.33,91.8 L350.00,92.1 L350.67,92.6 L351.34,92.9 L352.01,93.4 L352.68,93.8 L353.35,94.6 L354.02,95.0 L354.69,95.9 L355.36,96.9 L356.03,97.6 L356.70,97.9 L357.37,98.2 L358.04,98.9 L358.71,99.4 L359.37,100.0 L360.04,100.8 L360.71,101.4 L361.38,101.8 L362.05,102.7 L362.72,103.6 L363.39,104.6 L364.06,105.3 L364.73,106.1 L365.40,106.7 L366.07,107.5 L366.74,108.2 L367.41,109.0 L368.08,110.2 L368.75,111.2 L369.42,112.3 L370.09,112.6 L370.76,113.2 L371.43,113.7 L372.10,114.1 L372.77,114.9 L373.44,115.7 L374.11,116.3 L374.78,117.4 L375.45,118.3 L376.12,119.5 L376.79,120.2 L377.46,121.4 L378.12,122.5 L378.79,123.4 L379.46,124.6 L380.13,125.9 L380.80,127.4 L381.47,128.6 L382.14,129.9 L382.81,131.4 L383.48,132.8 L384.15,134.3 L384.82,135.9 L385.49,137.4 L386.16,138.4 L386.83,139.4 L387.50,140.5 L388.17,141.6 L388.84,142.5 L389.51,143.7 L390.18,144.9 L390.85,146.3 L391.52,147.4 L392.19,149.0 L392.86,150.1 L393.53,150.8 L394.20,151.7 L394.87,152.6 L395.54,153.8 L396.21,154.9 L396.87,155.7 L397.54,157.3 L398.21,158.3 L398.88,159.4 L399.55,160.3 L400.22,161.1 L400.89,162.2 L401.56,163.4 L402.23,164.5 L402.90,165.6 L403.57,166.4 L404.24,167.4 L404.91,168.5 L405.58,169.7 L406.25,170.9 L406.92,172.0 L407.59,172.7 L408.26,173.5 L408.93,174.6 L409.60,175.9 L410.27,177.0 L410.94,177.9 L411.61,179.0 L412.28,180.0 L412.95,180.7 L413.62,181.8 L414.29,183.0 L414.96,184.4 L415.62,185.3 L416.29,186.6 L416.96,187.8 L417.63,188.8 L418.30,189.7 L418.97,191.1 L419.64,192.3 L420.31,193.4 L420.98,194.3 L421.65,195.6 L422.32,196.6 L422.99,198.0 L423.66,199.3 L424.33,200.4 L425.00,201.2 L425.67,202.1 L426.34,203.4 L427.01,204.8 L427.68,205.9 L428.35,207.2 L429.02,208.3 L429.69,209.4 L430.36,210.5 L431.03,211.8 L431.70,213.0 L432.37,214.1 L433.04,215.0 L433.71,216.3 L434.37,217.7 L435.04,218.9 L435.71,220.2 L436.38,221.5 L437.05,222.7 L437.72,223.9 L438.39,224.8 L439.06,225.4 L439.73,226.6 L440.40,227.8 L441.07,228.9 L441.74,230.2 L442.41,231.6 L443.08,233.0 L443.75,234.3 L444.42,235.5 L445.09,237.1 L445.76,238.1 L446.43,239.2 L447.10,240.6 L447.77,241.5 L448.44,242.6 L449.11,243.6 L449.78,244.8 L450.45,246.0 L451.12,247.3 L451.79,248.4 L452.46,249.7 L453.12,250.6 L453.79,251.6 L454.46,252.7 L455.13,254.1 L455.80,255.4 L456.47,256.7 L457.14,258.0 L457.81,259.2 L458.48,260.2 L459.15,261.5 L459.82,262.8 L460.49,263.9 L461.16,265.1 L461.83,266.4 L462.50,267.6 L463.17,268.6 L463.84,270.2 L464.51,271.3 L465.18,272.2 L465.85,273.2 L466.52,274.4 L467.19,275.6 L467.86,276.9 L468.53,278.5 L469.20,279.9 L469.87,280.8 L470.54,281.9 L471.21,282.8 L471.87,284.0 L472.54,285.2 L473.21,286.5 L473.88,287.3 L474.55,288.2 L475.22,289.4 L475.89,290.7 L476.56,291.9 L477.23,293.4 L477.90,294.6 L478.57,295.4 L479.24,296.2 L479.91,297.2 L480.58,298.2 L481.25,299.2 L481.92,300.2 L482.59,301.5 L483.26,302.4 L483.93,303.2 L484.60,304.4 L485.27,305.6 L485.94,306.7 L486.61,308.2 L487.28,309.7 L487.95,311.2 L488.62,312.4 L489.29,313.5 L489.96,314.3 L490.62,315.2 L491.29,316.1 L491.96,317.2 L492.63,318.1 L493.30,319.0 L493.97,320.1 L494.64,321.6 L495.31,322.9 L495.98,324.3 L496.65,325.2 L497.32,326.1 L497.99,327.2 L498.66,328.3 L499.33,329.3 L500.00,330.3 L500.67,331.2 L501.34,332.1 L502.01,332.9 L502.68,334.0 L503.35,334.8 L504.02,335.7 L504.69,336.3 L505.36,337.2 L506.03,338.2 L506.70,339.5 L507.37,340.7 L508.04,341.9 L508.71,342.6 L509.37,343.2 L510.04,344.0 L510.71,345.1 L511.38,346.1 L512.05,347.1 L512.72,348.1 L513.39,349.0 L514.06,349.7 L514.73,350.9 L515.40,352.2 L516.07,353.4 L516.74,354.3 L517.41,355.2 L518.08,355.8 L518.75,356.4 L519.42,357.0 L520.09,357.9 L520.76,359.1 L521.43,360.0 L522.10,360.6 L522.77,361.4 L523.44,362.3 L524.11,363.3 L524.78,364.6 L525.45,365.5 L526.12,366.6 L526.79,367.4 L527.46,368.1 L528.12,368.8 L528.79,369.7 L529.46,370.6 L530.13,371.6 L530.80,372.2 L531.47,373.2 L532.14,374.0 L532.81,374.6 L533.48,375.5 L534.15,376.5 L534.82,377.2 L535.49,378.1 L536.16,378.9 L536.83,379.6 L537.50,380.2 L538.17,381.0 L538.84,382.1 L539.51,383.3 L540.18,383.9 L540.85,384.5 L541.52,384.9 L542.19,385.6 L542.86,386.5 L543.53,387.4 L544.20,388.2 L544.87,388.7 L545.54,389.6 L546.21,390.5 L546.88,391.5 L547.54,392.1 L548.21,392.3 L548.88,393.1 L549.55,393.6 L550.22,394.5 L550.89,395.3 L551.56,396.0 L552.23,396.7 L552.90,397.3 L553.57,398.1 L554.24,399.3 L554.91,400.2 L555.58,401.2 L556.25,401.9 L556.92,402.6 L557.59,403.0 L558.26,403.7 L558.93,404.2 L559.60,404.5 L560.27,405.1 L560.94,405.9 L561.61,406.8 L562.28,407.7 L562.95,408.2 L563.62,408.7 L564.29,409.3 L564.96,409.9 L565.62,410.6 L566.29,410.9 L566.96,411.3 L567.63,411.7 L568.30,412.2 L568.97,412.7 L569.64,413.4 L570.31,413.8 L570.98,414.4 L571.65,415.1 L572.32,416.0 L572.99,416.5 L573.66,416.8 L574.33,417.5 L575.00,418.3 L575.67,419.0 L576.34,419.6 L577.01,420.2 L577.68,421.0 L578.35,421.4 L579.02,422.0 L579.69,422.9 L580.36,423.4 L581.03,424.0 L581.70,424.5 L582.37,425.1 L583.04,425.3 L583.71,425.7 L584.38,426.0 L585.04,426.4 L585.71,426.8 L586.38,427.2 L587.05,427.9 L587.72,428.9 L588.39,429.3 L589.06,429.7 L589.73,430.2 L590.40,431.0 L591.07,431.4 L591.74,431.7 L592.41,432.4 L593.08,433.0 L593.75,433.2 L594.42,433.6 L595.09,434.0 L595.76,434.4 L596.43,435.1 L597.10,435.5 L597.77,436.1 L598.44,436.9 L599.11,437.5 L599.78,438.3 L600.45,438.6 L601.12,438.9 L601.79,439.4 L602.46,439.5 L603.12,440.1 L603.79,440.1 L604.46,440.6 L605.13,441.2 L605.80,441.4 L606.47,441.9 L607.14,442.1 L607.81,442.4 L608.48,442.9 L609.15,443.6 L609.82,444.4 L610.49,444.9 L611.16,445.0 L611.83,445.7 L612.50,445.7 L613.17,446.0 L613.84,445.9 L614.51,446.1 L615.18,446.3 L615.85,446.8 L616.52,447.6 L617.19,448.3 L617.86,448.7 L618.53,449.2 L619.20,449.7 L619.87,450.4 L620.54,451.0 L621.21,451.3 L621.87,451.7 L622.54,451.6 L623.21,452.1 L623.88,452.3 L624.55,452.5 L625.22,452.7 L625.89,452.9 L626.56,453.7 L627.23,454.3 L627.90,454.5 L628.57,454.9 L629.24,455.0 L629.91,455.4 L630.58,455.6 L631.25,455.7 L631.92,455.8 L632.59,455.9 L633.26,456.2 L633.93,456.4"/>
<path stroke="#008080" d="M55.98,496.8 L56.65,496.8 L57.32,496.5 L57.99,496.3 L58.66,496.0 L59.33,495.8 L60.00,495.5 L60.67,495.2 L61.34,494.9 L62.01,494.6 L62.68,494.2 L63.35,493.9 L64.02,493.5 L64.69,493.2 L65.36,492.8 L66.03,492.4 L66.70,492.0 L67.37,491.5 L68.04,491.1 L68.71,490.6 L69.38,490.1 L70.04,489.7 L70.71,489.1 L71.38,488.6 L72.05,488.1 L72.72,487.5 L73.39,486.9 L74.06,486.3 L74.73,485.7 L75.40,485.0 L76.07,484.4 L76.74,483.7 L77.41,483.0 L78.08,482.2 L78.75,481.5 L79.42,480.7 L80.09,479.9 L80.76,479.0 L81.43,478.2 L82.10,477.3 L82.77,476.4 L83.44,475.4 L84.11,474.5 L84.78,473.4 L85.45,472.4 L86.12,471.3 L86.79,470.2 L87.46,469.1 L88.12,467.9 L88.79,466.7 L89.46,465.5 L90.13,464.2 L90.80,462.9 L91.47,461.5 L92.14,460.1 L92.81,458.7 L93.48,457.2 L94.15,455.7 L94.82,454.1 L95.49,452.5 L96.16,450.9 L96.83,449.2 L97.50,447.4 L98.17,445.7 L98.84,443.9 L99.51,442.0 L100.18,440.2 L100.85,438.3 L101.52,436.3 L102.19,434.4 L102.86,432.4 L103.53,430.3 L104.20,428.3 L104.87,426.1 L105.54,424.0 L106.21,421.8 L106.87,419.6 L107.54,417.3 L108.21,415.0 L108.88,412.6 L109.55,410.2 L110.22,407.8 L110.89,405.3 L111.56,402.8 L112.23,400.2 L112.90,397.5 L113.57,394.8 L114.24,392.1 L114.91,389.3 L115.58,386.5 L116.25,383.6 L116.92,380.7 L117.59,377.7 L118.26,374.7 L118.93,371.6 L119.60,368.5 L120.27,365.3 L120.94,362.2 L121.61,358.9 L122.28,355.7 L122.95,352.4 L123.62,349.1 L124.29,345.7 L124.96,342.4 L125.62,339.0 L126.29,335.7 L126.96,332.3 L127.63,329.0 L128.30,325.6 L128.97,322.2 L129.64,318.8 L130.31,315.4 L130.98,312.1 L131.65,308.7 L132.32,305.3 L132.99,301.9 L133.66,298.5 L134.33,295.1 L135.00,291.7 L135.67,288.4 L136.34,285.0 L137.01,281.6 L137.68,278.2 L138.35,274.9 L139.02,271.5 L139.69,268.1 L140.36,264.8 L141.03,261.4 L141.70,258.1 L142.37,254.7 L143.04,251.4 L143.71,248.0 L144.37,244.7 L145.04,241.4 L145.71,238.1 L146.38,234.8 L147.05,231.5 L147.72,228.2 L148.39,225.0 L149.06,221.7 L149.73,218.5 L150.40,215.2 L151.07,212.0 L151.74,208.8 L152.41,205.6 L153.08,202.4 L153.75,199.2 L154.42,196.0 L155.09,192.9 L155.76,189.7 L156.43,186.6 L157.10,183.5 L157.77,180.4 L158.44,177.3 L159.11,174.2 L159.78,171.2 L160.45,168.2 L161.12,165.2 L161.79,162.2 L162.46,159.3 L163.12,156.4 L163.79,153.6 L164.46,150.8 L165.13,148.0 L165.80,145.3 L166.47,142.7 L167.14,140.1 L167.81,137.5 L168.48,135.0 L169.15,132.6 L169.82,130.2 L170.49,127.8 L171.16,125.5 L171.83,123.3 L172.50,121.0 L173.17,118.9 L173.84,116.7 L174.51,114.7 L175.18,112.6 L175.85,110.6 L176.52,108.6 L177.19,106.7 L177.86,104.8 L178.53,103.0 L179.20,101.1 L179.87,99.4 L180.54,97.6 L181.21,95.9 L181.87,94.2 L182.54,92.6 L183.21,91.0 L183.88,89.5 L184.55,88.0 L185.22,86.5 L185.89,85.1 L186.56,83.8 L187.23,82.5 L187.90,81.2 L188.57,80.0 L189.24,78.8 L189.91,77.8 L190.58,76.7 L191.25,75.7 L191.92,74.7 L192.59,73.8 L193.26,72.9 L193.93,72.0 L194.60,71.2 L195.27,70.5 L195.94,69.8 L196.61,69.1 L197.28,68.6 L197.95,68.0 L198.62,67.4 L199.29,66.6 L199.96,65.9 L200.62,65.3 L201.29,64.6 L201.96,64.1 L202.63,63.8 L203.30,63.3 L203.97,62.8 L204.64,62.2 L205.31,61.8 L205.98,61.4 L206.65,61.2 L207.32,60.8 L207.99,60.7 L208.66,60.1 L209.33,59.6 L210.00,59.1 L210.67,58.9 L211.34,58.6 L212.01,58.7 L212.68,58.3 L213.35,58.2 L214.02,58.0 L214.69,58.2 L215.36,58.2 L216.03,58.0 L216.70,57.8 L217.37,57.8 L218.04,57.7 L218.71,57.7 L219.37,57.7 L220.04,57.5 L220.71,57.2 L221.38,57.1 L222.05,57.2 L222.72,57.3 L223.39,57.5 L224.06,57.6 L224.73,57.3 L225.40,57.5 L226.07,57.6 L226.74,57.8 L227.41,57.9 L228.08,58.2 L228.75,58.6 L229.42,58.7 L230.09,59.1 L230.76,59.7 L231.43,59.9 L232.10,60.3 L232.77,60.4 L233.44,60.6 L234.11,60.6 L234.78,60.6 L235.45,60.7 L236.12,61.0 L236.79,61.5 L237.46,61.9 L238.12,62.4 L238.79,62.8 L239.46,63.1 L240.13,63.5 L240.80,63.9 L241.47,64.5 L242.14,64.8 L242.81,65.0 L243.48,65.1 L244.15,65.0 L244.82,65.0 L245.49,64.9 L246.16,65.4 L246.83,65.6 L247.50,66.0 L248.17,66.2 L248.84,66.6 L249.51,66.8 L250.18,67.3 L250.85,67.8 L251.52,68.2 L252.19,68.6 L252.86,69.2 L253.53,69.4 L254.20,69.3 L254.87,69.3 L255.54,69.4 L256.21,69.6 L256.87,70.1 L257.54,70.7 L258.21,71.0 L258.88,71.2 L259.55,71.7 L260.22,72.1 L260.89,72.4 L261.56,72.6 L262.23,72.8 L262.90,72.9 L263.57,73.0 L264.24,73.3 L264.91,73.5 L265.58,73.5 L266.25,73.5 L266.92,73.8 L267.59,73.9 L268.26,74.3 L268.93,74.5 L269.60,74.6 L270.27,74.7 L270.94,74.7 L271.61,74.8 L272.28,75.1 L272.95,75.0 L273.62,75.3 L274.29,75.3 L274.96,75.6 L275.62,75.5 L276.29,75.5 L276.96,75.5 L277.63,75.6 L278.30,76.1 L278.97,76.5 L279.64,77.1 L280.31,77.2 L280.98,77.3 L281.65,77.6 L282.32,77.7 L282.99,77.8 L283.66,77.8 L284.33,77.6 L285.00,77.3 L285.67,77.1 L286.34,77.1 L287.01,77.3 L287.68,77.3 L288.35,77.3 L289.02,77.4 L289.69,77.4 L290.36,77.5 L291.03,77.5 L291.70,77.7 L292.37,78.1 L293.04,78.1 L293.71,78.1 L294.37,78.3 L295.04,78.3 L295.71,78.5 L296.38,78.1 L297.05,78.1 L297.72,78.2 L298.39,78.0 L299.06,78.3 L299.73,78.5 L300.40,78.5 L301.07,78.6 L301.74,78.8 L302.41,79.1 L303.08,79.0 L303.75,78.8 L304.42,79.0 L305.09,79.0 L305.76,78.9 L306.43,78.9 L307.10,79.0 L307.77,79.3 L308.44,79.6 L309.11,79.9 L309.78,80.1 L310.45,80.2 L311.12,80.3 L311.79,80.2 L312.46,80.5 L313.12,80.5 L313.79,80.4 L314.46,80.5 L315.13,80.7 L315.80,81.1 L316.47,81.6 L317.14,81.9 L317.81,82.1 L318.48,81.9 L319.15,82.1 L319.82,82.3 L320.49,82.2 L321.16,82.4 L321.83,82.6 L322.50,82.9 L323.17,82.8 L323.84,83.3 L324.51,83.6 L325.18,83.8 L325.85,83.5 L326.52,83.7 L327.19,83.9 L327.86,84.1 L328.53,84.4 L329.20,85.0 L329.87,85.0 L330.54,85.0 L331.21,85.3 L331.87,85.7 L332.54,85.8 L333.21,85.8 L333.88,85.9 L334.55,86.2 L335.22,86.4 L335.89,86.7 L336.56,87.0 L337.23,87.2 L337.90,87.7 L338.57,88.2 L339.24,88.7 L339.91,89.0 L340.58,89.1 L341.25,89.6 L341.92,89.8 L342.59,90.2 L343.26,90.3 L343.93,90.5 L344.60,90.5 L345.27,90.8 L345.94,91.8 L346.61,92.2 L347.28,92.6 L347.95,93.3 L348.62,93.1 L349.29,93.3 L349.96,93.6 L350.62,94.4 L351.29,95.4 L351.96,95.9 L352.63,96.5 L353.30,96.9 L353.97,96.8 L354.64,97.3 L355.31,97.8 L355.98,98.1 L356.65,98.6 L357.32,99.2 L357.99,99.9 L358.66,100.3 L359.33,100.7 L360.00,101.6 L360.67,102.3 L361.34,103.2 L362.01,103.8 L362.68,104.1 L363.35,104.8 L364.02,105.4 L364.69,106.1 L365.36,106.9 L366.03,107.5 L366.70,108.1 L367.37,108.6 L368.04,109.2 L368.71,110.0 L369.37,110.5 L370.04,111.0 L370.71,111.5 L371.38,112.4 L372.05,113.2 L372.72,114.1 L373.39,114.6 L374.06,115.1 L374.73,115.7 L375.40,116.3 L376.07,117.1 L376.74,117.7 L377.41,118.1 L378.08,119.0 L378.75,119.8 L379.42,120.8 L380.09,121.6 L380.76,122.5 L381.43,123.1 L382.10,123.6 L382.77,124.2 L383.44,124.8 L384.11,125.4 L384.78,126.3 L385.45,127.2 L386.12,128.0 L386.79,128.7 L387.46,129.3 L388.12,129.9 L388.79,130.6 L389.46,131.3 L390.13,131.9 L390.80,132.7 L391.47,133.8 L392.14,134.6 L392.81,135.1 L393.48,136.1 L394.15,137.5 L394.82,138.7 L395.49,139.7 L396.16,140.9 L396.83,141.9 L397.50,143.1 L398.17,144.2 L398.84,145.2 L399.51,146.1 L400.18,147.1 L400.85,147.8 L401.52,148.8 L402.19,149.7 L402.86,150.9 L403.53,151.8 L404.20,152.6 L404.87,153.8 L405.54,154.8 L406.21,155.9 L406.87,156.7 L407.54,157.6 L408.21,158.6 L408.88,159.5 L409.55,160.8 L410.22,162.1 L410.89,163.3 L411.56,164.2 L412.23,165.2 L412.90,166.6 L413.57,167.8 L414.24,168.8 L414.91,169.9 L415.58,171.1 L416.25,171.9 L416.92,173.1 L417.59,174.0 L418.26,175.1 L418.93,175.8 L419.60,177.1 L420.27,178.3 L420.94,179.2 L421.61,180.2 L422.28,181.4 L422.95,182.5 L423.62,183.7 L424.29,184.8 L424.96,185.8 L425.62,186.7 L426.29,187.6 L426.96,188.6 L427.63,189.5 L428.30,190.4 L428.97,191.4 L429.64,192.7 L430.31,194.2 L430.98,195.4 L431.65,196.5 L432.32,197.2 L432.99,198.2 L433.66,199.2 L434.33,200.3 L435.00,201.3 L435.67,202.1 L436.34,203.0 L437.01,204.2 L437.68,205.8 L438.35,207.1 L439.02,208.2 L439.69,209.6 L440.36,210.5 L441.03,211.4 L441.70,212.5 L442.37,213.5 L443.04,214.9 L443.71,216.1 L444.37,217.6 L445.04,219.1 L445.71,220.3 L446.38,221.5 L447.05,222.7 L447.72,223.7 L448.39,225.0 L449.06,225.8 L449.73,227.0 L450.40,227.9 L451.07,229.1 L451.74,230.3 L452.41,231.4 L453.08,232.5 L453.75,233.5 L454.42,234.2 L455.09,235.2 L455.76,236.6 L456.43,238.2 L457.10,239.8 L457.77,241.1 L458.44,242.3 L459.11,243.2 L459.78,244.0 L460.45,244.9 L461.12,246.2 L461.79,247.5 L462.46,248.8 L463.12,250.0 L463.79,251.3 L464.46,252.4 L465.13,254.0 L465.80,255.4 L466.47,256.7 L467.14,257.5 L467.81,258.2 L468.48,259.3 L469.15,260.2 L469.82,261.3 L470.49,262.3 L471.16,263.4 L471.83,264.8 L472.50,266.4 L473.17,267.4 L473.84,268.1 L474.51,268.8 L475.18,269.9 L475.85,271.2 L476.52,272.8 L477.19,274.5 L477.86,275.6 L478.53,276.4 L479.20,277.5 L479.87,278.9 L480.54,280.2 L481.21,281.7 L481.88,282.8 L482.54,283.9 L483.21,284.5 L483.88,285.5 L484.55,286.7 L485.22,287.7 L485.89,288.5 L486.56,289.6 L487.23,290.6 L487.90,291.5 L488.57,292.5 L489.24,293.7 L489.91,295.0 L490.58,296.0 L491.25,297.1 L491.92,298.2 L492.59,299.4 L493.26,300.2 L493.93,301.4 L494.60,302.4 L495.27,303.6 L495.94,304.4 L496.61,305.5 L497.28,306.4 L497.95,307.4 L498.62,308.3 L499.29,309.6 L499.96,310.5 L500.62,311.8 L501.29,312.9 L501.96,313.9 L502.63,315.1 L503.30,316.4 L503.97,317.5 L504.64,318.3 L505.31,319.4 L505.98,320.6 L506.65,321.5 L507.32,322.4 L507.99,323.5 L508.66,324.5 L509.33,325.6 L510.00,326.6 L510.67,327.9 L511.34,328.9 L512.01,330.0 L512.68,330.9 L513.35,331.7 L514.02,332.5 L514.69,333.4 L515.36,334.1 L516.03,335.3 L516.70,336.6 L517.37,337.9 L518.04,338.8 L518.71,339.5 L519.38,340.3 L520.04,340.9 L520.71,341.5 L521.38,342.4 L522.05,343.5 L522.72,344.7 L523.39,346.0 L524.06,347.1 L524.73,347.8 L525.40,348.4 L526.07,349.4 L526.74,350.4 L527.41,351.3 L528.08,352.1 L528.75,352.9 L529.42,353.5 L530.09,354.1 L530.76,355.3 L531.43,356.3 L532.10,357.4 L532.77,358.6 L533.44,359.3 L534.11,359.7 L534.78,360.4 L535.45,361.3 L536.12,362.4 L536.79,363.3 L537.46,364.3 L538.12,365.0 L538.79,365.5 L539.46,366.5 L540.13,367.6 L540.80,368.7 L541.47,369.8 L542.14,370.6 L542.81,371.5 L543.48,372.1 L544.15,372.8 L544.82,373.9 L545.49,374.6 L546.16,375.4 L546.83,375.9 L547.50,376.5 L548.17,377.3 L548.84,378.1 L549.51,379.0 L550.18,379.7 L550.85,380.6 L551.52,381.6 L552.19,382.7 L552.86,383.5 L553.53,384.0 L554.20,384.6 L554.87,385.2 L555.54,386.1 L556.21,386.9 L556.88,387.4 L557.54,388.2 L558.21,388.9 L558.88,389.8 L559.55,390.2 L560.22,390.6 L560.89,391.4 L561.56,392.2 L562.23,393.0 L562.90,394.0 L563.57,394.4 L564.24,394.9 L564.91,395.3 L565.58,396.3 L566.25,397.2 L566.92,397.6 L567.59,398.1 L568.26,398.9 L568.93,399.3 L569.60,400.0 L570.27,400.7 L570.94,401.5 L571.61,402.3 L572.28,403.2 L572.95,404.0 L573.62,404.7 L574.29,405.1 L574.96,405.8 L575.62,406.3 L576.29,407.1 L576.96,407.6 L577.63,408.2 L578.30,408.7 L578.97,409.5 L579.64,410.0 L580.31,410.6 L580.98,411.1 L581.65,411.8 L582.32,412.3 L582.99,413.2 L583.66,413.7 L584.33,414.3 L585.00,414.7 L585.67,415.3 L586.34,416.0 L587.01,416.8 L587.68,417.5 L588.35,417.7 L589.02,417.9 L589.69,418.2 L590.36,418.7 L591.03,419.4 L591.70,420.1 L592.37,420.6 L593.04,421.1 L593.71,421.5 L594.38,422.0 L595.04,422.4 L595.71,422.9 L596.38,423.5 L597.05,424.1 L597.72,424.4 L598.39,424.7 L599.06,425.1 L599.73,425.6 L600.40,426.3 L601.07,426.6 L601.74,427.0 L602.41,427.6 L603.08,428.1 L603.75,428.4 L604.42,428.9 L605.09,429.1 L605.76,429.7 L606.43,429.8 L607.10,430.3 L607.77,431.0 L608.44,431.9 L609.11,432.3 L609.78,432.7 L610.45,433.0 L611.12,433.6 L611.79,433.7 L612.46,434.0 L613.12,434.1 L613.79,434.4 L614.46,435.0 L615.13,435.7 L615.80,436.0 L616.47,436.6 L617.14,436.9 L617.81,437.6 L618.48,438.0 L619.15,438.5 L619.82,439.0 L620.49,439.3 L621.16,439.5 L621.83,439.7 L622.50,439.9 L623.17,440.7 L623.84,441.3 L624.51,441.7 L625.18,441.8 L625.85,442.2 L626.52,442.5 L627.19,443.0 L627.86,443.1 L628.53,443.5 L629.20,443.6 L629.87,443.8 L630.54,443.9 L631.21,444.1 L631.88,444.3 L632.54,444.4 L633.21,444.5 L633.88,444.9"/>
<path stroke="#ff00ff" d="M56.25,496.8 L56.92,496.8 L57.59,496.5 L58.26,496.3 L58.93,496.0 L59.60,495.8 L60.27,495.5 L60.94,495.2 L61.61,494.9 L62.28,494.6 L62.95,494.2 L63.62,493.9 L64.29,493.5 L64.96,493.1 L65.62,492.8 L66.29,492.4 L66.96,491.9 L67.63,491.5 L68.30,491.1 L68.97,490.6 L69.64,490.1 L70.31,489.6 L70.98,489.1 L71.65,488.6 L72.32,488.0 L72.99,487.5 L73.66,486.9 L74.33,486.3 L75.00,485.6 L75.67,485.0 L76.34,484.3 L77.01,483.6 L77.68,482.9 L78.35,482.2 L79.02,481.4 L79.69,480.7 L80.36,479.8 L81.03,479.0 L81.70,478.2 L82.37,477.3 L83.04,476.4 L83.71,475.4 L84.37,474.4 L85.04,473.4 L85.71,472.4 L86.38,471.3 L87.05,470.3 L87.72,469.1 L88.39,468.0 L89.06,466.8 L89.73,465.5 L90.40,464.2 L91.07,462.9 L91.74,461.6 L92.41,460.2 L93.08,458.8 L93.75,457.3 L94.42,455.8 L95.09,454.2 L95.76,452.6 L96.43,451.0 L97.10,449.3 L97.77,447.6 L98.44,445.8 L99.11,444.0 L99.78,442.2 L100.45,440.3 L101.12,438.4 L101.79,436.5 L102.46,434.5 L103.12,432.5 L103.79,430.5 L104.46,428.4 L105.13,426.3 L105.80,424.1 L106.47,421.9 L107.14,419.7 L107.81,417.4 L108.48,415.1 L109.15,412.7 L109.82,410.3 L110.49,407.8 L111.16,405.3 L111.83,402.8 L112.50,400.1 L113.17,397.5 L113.84,394.8 L114.51,392.0 L115.18,389.2 L115.85,386.3 L116.52,383.4 L117.19,380.4 L117.86,377.4 L118.53,374.3 L119.20,371.2 L119.87,368.1 L120.54,364.9 L121.21,361.7 L121.87,358.4 L122.54,355.1 L123.21,351.8 L123.88,348.5 L124.55,345.1 L125.22,341.8 L125.89,338.4 L126.56,335.1 L127.23,331.8 L127.90,328.4 L128.57,325.1 L129.24,321.7 L129.91,318.4 L130.58,315.0 L131.25,311.7 L131.92,308.4 L132.59,305.0 L133.26,301.7 L133.93,298.4 L134.60,295.0 L135.27,291.7 L135.94,288.4 L136.61,285.1 L137.28,281.7 L137.95,278.4 L138.62,275.1 L139.29,271.8 L139.96,268.5 L140.62,265.2 L141.29,261.9 L141.96,258.6 L142.63,255.3 L143.30,252.0 L143.97,248.7 L144.64,245.4 L145.31,242.1 L145.98,238.9 L146.65,235.6 L147.32,232.3 L147.99,229.0 L148.66,225.8 L149.33,222.5 L150.00,219.3 L150.67,216.0 L151.34,212.8 L152.01,209.5 L152.68,206.3 L153.35,203.1 L154.02,199.8 L154.69,196.6 L155.36,193.4 L156.03,190.2 L156.70,187.0 L157.37,183.8 L158.04,180.6 L158.71,177.4 L159.37,174.2 L160.04,171.0 L160.71,167.9 L161.38,164.7 L162.05,161.7 L162.72,158.6 L163.39,155.6 L164.06,152.7 L164.73,149.8 L165.40,147.0 L166.07,144.3 L166.74,141.6 L167.41,138.9 L168.08,136.4 L168.75,133.9 L169.42,131.4 L170.09,129.0 L170.76,126.7 L171.43,124.4 L172.10,122.2 L172.77,120.0 L173.44,117.9 L174.11,115.8 L174.78,113.8 L175.45,111.8 L176.12,109.9 L176.79,108.0 L177.46,106.1 L178.12,104.3 L178.79,102.6 L179.46,100.8 L180.13,99.1 L180.80,97.5 L181.47,95.8 L182.14,94.2 L182.81,92.7 L183.48,91.2 L184.15,89.7 L184.82,88.3 L185.49,86.9 L186.16,85.5 L186.83,84.2 L187.50,82.9 L188.17,81.7 L188.84,80.5 L189.51,79.4 L190.18,78.3 L190.85,77.2 L191.52,76.2 L192.19,75.3 L192.86,74.3 L193.53,73.3 L194.20,72.4 L194.87,71.6 L195.54,70.8 L196.21,70.0 L196.87,69.3 L197.54,68.6 L198.21,68.1 L198.88,67.2 L199.55,66.4 L200.22,65.6 L200.89,64.8 L201.56,64.4 L202.23,64.0 L202.90,63.5 L203.57,63.2 L204.24,62.9 L204.91,62.7 L205.58,62.2 L206.25,61.7 L206.92,61.3 L207.59,60.8 L208.26,60.6 L208.93,60.0 L209.60,59.6 L210.27,59.2 L210.94,58.7 L211.61,58.3 L212.28,57.8 L212.95,57.8 L213.62,58.0 L214.29,58.4 L214.96,58.4 L215.62,58.6 L216.29,58.7 L216.96,58.5 L217.63,58.2 L218.30,57.6 L218.97,57.2 L219.64,57.1 L220.31,57.0 L220.98,57.4 L221.65,57.3 L222.32,57.2 L222.99,57.5 L223.66,57.9 L224.33,58.1 L225.00,58.5 L225.67,58.5 L226.34,58.8 L227.01,58.5 L227.68,58.4 L228.35,58.4 L229.02,58.5 L229.69,58.2 L230.36,58.5 L231.03,58.9 L231.70,58.8 L232.37,59.0 L233.04,59.1 L233.71,59.7 L234.37,60.2 L235.04,61.0 L235.71,61.3 L236.38,61.3 L237.05,61.0 L237.72,61.6 L238.39,62.2 L239.06,62.9 L239.73,63.5 L240.40,64.1 L241.07,64.3 L241.74,64.5 L242.41,64.4 L243.08,64.8 L243.75,65.0 L244.42,65.5 L245.09,65.8 L245.76,66.1 L246.43,66.2 L247.10,66.1 L247.77,66.0 L248.44,66.1 L249.11,66.3 L249.78,66.7 L250.45,67.2 L251.12,68.1 L251.79,68.7 L252.46,68.9 L253.12,69.1 L253.79,69.1 L254.46,69.1 L255.13,69.1 L255.80,69.4 L256.47,69.8 L257.14,70.4 L257.81,70.7 L258.48,70.6 L259.15,70.5 L259.82,70.9 L260.49,71.6 L261.16,72.4 L261.83,72.7 L262.50,72.9 L263.17,72.8 L263.84,72.9 L264.51,73.3 L265.18,73.7 L265.85,74.2 L266.52,74.4 L267.19,74.8 L267.86,75.4 L268.53,76.2 L269.20,76.7 L269.87,77.1 L270.54,76.9 L271.21,76.6 L271.88,76.5 L272.54,76.9 L273.21,77.1 L273.88,77.5 L274.55,77.6 L275.22,77.9 L275.89,78.1 L276.56,78.4 L277.23,78.8 L277.90,79.3 L278.57,80.0 L279.24,80.6 L279.91,81.0 L280.58,81.1 L281.25,81.2 L281.92,81.6 L282.59,81.6 L283.26,82.1 L283.93,82.3 L284.60,82.2 L285.27,82.2 L285.94,82.5 L286.61,82.9 L287.28,82.9 L287.95,82.5 L288.62,82.3 L289.29,82.5 L289.96,82.8 L290.62,83.2 L291.29,83.6 L291.96,83.8 L292.63,83.8 L293.30,84.0 L293.97,84.0 L294.64,84.1 L295.31,84.3 L295.98,84.1 L296.65,84.1 L297.32,84.4 L297.99,84.8 L298.66,85.1 L299.33,84.9 L300.00,85.3 L300.67,85.5 L301.34,85.8 L302.01,86.1 L302.68,85.9 L303.35,85.7 L304.02,85.4 L304.69,85.6 L305.36,86.0 L306.03,86.4 L306.70,86.6 L307.37,86.0 L308.04,86.1 L308.71,86.3 L309.37,86.6 L310.04,87.1 L310.71,87.4 L311.38,87.4 L312.05,87.5 L312.72,87.6 L313.39,88.0 L314.06,88.2 L314.73,88.3 L315.40,88.1 L316.07,88.0 L316.74,88.1 L317.41,88.6 L318.08,88.8 L318.75,89.1 L319.42,89.7 L320.09,90.4 L320.76,90.5 L321.43,90.4 L322.10,90.5 L322.77,90.6 L323.44,90.7 L324.11,90.7 L324.78,91.2 L325.45,91.5 L326.12,91.8 L326.79,91.8 L327.46,91.6 L328.12,91.3 L328.79,91.9 L329.46,92.3 L330.13,92.9 L330.80,93.3 L331.47,93.5 L332.14,93.7 L332.81,93.9 L333.48,94.4 L334.15,94.9 L334.82,95.3 L335.49,96.0 L336.16,96.2 L336.83,96.0 L337.50,96.1 L338.17,95.9 L338.84,96.5 L339.51,96.6 L340.18,97.1 L340.85,97.2 L341.52,97.9 L342.19,98.1 L342.86,98.4 L343.53,98.7 L344.20,99.5 L344.87,99.7 L345.54,100.3 L346.21,100.7 L346.87,100.7 L347.54,100.5 L348.21,100.8 L348.88,101.7 L349.55,102.0 L350.22,102.3 L350.89,102.7 L351.56,103.2 L352.23,103.5 L352.90,104.5 L353.57,105.3 L354.24,105.5 L354.91,105.8 L355.58,106.5 L356.25,106.8 L356.92,107.1 L357.59,107.7 L358.26,108.1 L358.93,108.6 L359.60,109.8 L360.27,110.9 L360.94,111.7 L361.61,111.9 L362.28,112.5 L362.95,113.3 L363.62,114.3 L364.29,115.4 L364.96,116.6 L365.62,117.3 L366.29,117.8 L366.96,118.2 L367.63,118.8 L368.30,119.5 L368.97,120.2 L369.64,120.8 L370.31,121.8 L370.98,122.9 L371.65,123.6 L372.32,124.3 L372.99,124.8 L373.66,125.2 L374.33,126.0 L375.00,126.4 L375.67,127.0 L376.34,127.6 L377.01,128.2 L377.68,129.3 L378.35,130.4 L379.02,131.6 L379.69,132.3 L380.36,133.0 L381.03,133.9 L381.70,134.8 L382.37,135.4 L383.04,136.1 L383.71,136.8 L384.37,137.3 L385.04,138.2 L385.71,139.7 L386.38,140.6 L387.05,141.2 L387.72,141.6 L388.39,142.4 L389.06,143.3 L389.73,144.2 L390.40,144.9 L391.07,145.2 L391.74,145.8 L392.41,146.5 L393.08,147.5 L393.75,148.4 L394.42,149.6 L395.09,150.4 L395.76,151.1 L396.43,152.1 L397.10,153.2 L397.77,154.2 L398.44,154.7 L399.11,155.1 L399.78,155.8 L400.45,156.3 L401.12,157.2 L401.79,158.1 L402.46,159.3 L403.12,160.3 L403.79,161.0 L404.46,161.9 L405.13,163.0 L405.80,164.1 L406.47,165.1 L407.14,166.4 L407.81,167.2 L408.48,168.4 L409.15,169.2 L409.82,170.3 L410.49,171.1 L411.16,171.7 L411.83,172.7 L412.50,173.9 L413.17,174.9 L413.84,176.0 L414.51,177.1 L415.18,178.2 L415.85,178.9 L416.52,179.7 L417.19,180.7 L417.86,181.6 L418.53,182.4 L419.20,183.8 L419.87,185.2 L420.54,186.6 L421.21,188.0 L421.87,189.2 L422.54,190.4 L423.21,191.2 L423.88,192.2 L424.55,193.2 L425.22,194.5 L425.89,196.0 L426.56,197.6 L427.23,198.4 L427.90,199.4 L428.57,200.4 L429.24,201.4 L429.91,202.2 L430.58,203.5 L431.25,204.9 L431.92,206.4 L432.59,207.7 L433.26,209.3 L433.93,210.6 L434.60,211.7 L435.27,213.1 L435.94,214.6 L436.61,215.4 L437.28,216.3 L437.95,217.3 L438.62,218.1 L439.29,219.3 L439.96,220.4 L440.62,221.9 L441.29,223.1 L441.96,223.9 L442.63,225.2 L443.30,226.5 L443.97,227.8 L444.64,228.8 L445.31,229.8 L445.98,231.1 L446.65,232.1 L447.32,233.2 L447.99,233.9 L448.66,234.8 L449.33,236.0 L450.00,237.4 L450.67,239.0 L451.34,240.0 L452.01,240.8 L452.68,242.0 L453.35,243.3 L454.02,244.4 L454.69,245.8 L455.36,246.8 L456.03,247.6 L456.70,248.5 L457.37,249.5 L458.04,250.7 L458.71,251.5 L459.37,252.8 L460.04,253.8 L460.71,254.6 L461.38,255.5 L462.05,256.7 L462.72,257.4 L463.39,258.6 L464.06,259.7 L464.73,261.2 L465.40,262.2 L466.07,263.7 L466.74,264.8 L467.41,265.8 L468.08,266.7 L468.75,268.1 L469.42,269.5 L470.09,270.6 L470.76,270.9 L471.43,271.2 L472.10,271.1 L472.77,271.9 L473.44,273.3 L474.11,275.0 L474.78,276.1 L475.45,276.8 L476.12,277.5 L476.79,278.5 L477.46,279.2 L478.12,280.4 L478.79,281.7 L479.46,283.2 L480.13,284.7 L480.80,285.9 L481.47,286.9 L482.14,287.7 L482.81,288.9 L483.48,289.7 L484.15,290.6 L484.82,291.5 L485.49,292.6 L486.16,293.5 L486.83,295.3 L487.50,296.4 L488.17,297.5 L488.84,298.0 L489.51,298.6 L490.18,299.5 L490.85,300.4 L491.52,301.6 L492.19,302.7 L492.86,303.5 L493.53,304.6 L494.20,305.6 L494.87,306.7 L495.54,307.4 L496.21,308.5 L496.87,309.3 L497.54,310.4 L498.21,311.4 L498.88,312.7 L499.55,313.8 L500.22,314.9 L500.89,316.2 L501.56,317.4 L502.23,318.3 L502.90,319.3 L503.57,320.5 L504.24,321.3 L504.91,322.4 L505.58,323.5 L506.25,324.7 L506.92,325.5 L507.59,326.7 L508.26,327.5 L508.93,328.6 L509.60,329.4 L510.27,330.4 L510.94,331.2 L511.61,332.1 L512.28,332.8 L512.95,334.0 L513.62,335.1 L514.29,336.4 L514.96,337.5 L515.62,338.5 L516.29,339.3 L516.96,340.0 L517.63,340.8 L518.30,342.0 L518.97,343.0 L519.64,344.2 L520.31,344.9 L520.98,345.6 L521.65,346.6 L522.32,347.4 L522.99,347.6 L523.66,348.0 L524.33,348.8 L525.00,349.5 L525.67,350.0 L526.34,350.9 L527.01,352.2 L527.68,353.3 L528.35,354.5 L529.02,355.7 L529.69,356.9 L530.36,357.5 L531.03,358.3 L531.70,358.9 L532.37,359.9 L533.04,360.8 L533.71,362.1 L534.38,363.0 L535.04,364.0 L535.71,364.7 L536.38,365.4 L537.05,365.8 L537.72,366.2 L538.39,366.8 L539.06,367.6 L539.73,368.4 L540.40,369.2 L541.07,369.8 L541.74,370.8 L542.41,371.3 L543.08,372.2 L543.75,372.8 L544.42,374.1 L545.09,374.9 L545.76,375.7 L546.43,376.4 L547.10,377.3 L547.77,378.0 L548.44,378.7 L549.11,379.4 L549.78,380.0 L550.45,380.6 L551.12,381.2 L551.79,381.8 L552.46,382.2 L553.12,382.9 L553.79,383.5 L554.46,384.3 L555.13,385.0 L555.80,386.5 L556.47,387.4 L557.14,388.4 L557.81,389.3 L558.48,390.3 L559.15,390.8 L559.82,391.6 L560.49,392.5 L561.16,393.4 L561.83,393.7 L562.50,394.2 L563.17,394.5 L563.84,394.8 L564.51,395.3 L565.18,396.5 L565.85,397.4 L566.52,397.8 L567.19,397.7 L567.86,397.7 L568.53,398.3 L569.20,399.0 L569.87,399.6 L570.54,400.0 L571.21,400.6 L571.88,401.0 L572.54,401.8 L573.21,402.5 L573.88,402.9 L574.55,403.4 L575.22,404.0 L575.89,405.1 L576.56,406.1 L577.23,406.8 L577.90,407.6 L578.57,408.1 L579.24,408.9 L579.91,409.8 L580.58,410.1 L581.25,410.6 L581.92,411.3 L582.59,412.4 L583.26,413.2 L583.93,413.3 L584.60,413.5 L585.27,413.5 L585.94,414.0 L586.61,415.0 L587.28,415.9 L587.95,416.1 L588.62,416.3 L589.29,416.5 L589.96,417.1 L590.62,417.7 L591.29,418.3 L591.96,418.5 L592.63,419.0 L593.30,419.5 L593.97,420.3 L594.64,420.8 L595.31,421.6 L595.98,422.0 L596.65,422.4 L597.32,423.1 L597.99,423.8 L598.66,424.3 L599.33,424.9 L600.00,425.3 L600.67,425.8 L601.34,426.1 L602.01,426.5 L602.68,426.9 L603.35,427.3 L604.02,427.8 L604.69,428.4 L605.36,428.8 L606.03,429.0 L606.70,428.9 L607.37,429.5 L608.04,430.4 L608.71,431.4 L609.37,431.8 L610.04,431.8 L610.71,432.1 L611.38,432.7 L612.05,433.3 L612.72,433.5 L613.39,434.1 L614.06,434.2 L614.73,434.4 L615.40,434.6 L616.07,435.3 L616.74,435.6 L617.41,435.8 L618.08,436.3 L618.75,437.0 L619.42,437.2 L620.09,438.0 L620.76,438.3 L621.43,438.4 L622.10,438.1 L622.77,438.8 L623.44,439.6 L624.11,440.4 L624.78,440.8 L625.45,441.1 L626.12,441.3 L626.79,441.8 L627.46,441.8 L628.12,441.8 L628.79,441.8 L629.46,442.4 L630.13,443.0 L630.80,443.7 L631.47,444.1 L632.14,444.3 L632.81,444.5 L633.48,444.6"/>
<path stroke="#808000" d="M57.14,496.8 L57.81,496.8 L58.48,496.7 L59.15,496.5 L59.82,496.4 L60.49,496.2 L61.16,496.0 L61.83,495.8 L62.50,495.5 L63.17,495.3 L63.84,495.1 L64.51,494.8 L65.18,494.5 L65.85,494.2 L66.52,493.9 L67.19,493.6 L67.86,493.3 L68.53,492.9 L69.20,492.6 L69.87,492.2 L70.54,491.8 L71.21,491.4 L71.88,491.0 L72.54,490.5 L73.21,490.1 L73.88,489.6 L74.55,489.1 L75.22,488.6 L75.89,488.1 L76.56,487.5 L77.23,487.0 L77.90,486.4 L78.57,485.7 L79.24,485.1 L79.91,484.4 L80.58,483.8 L81.25,483.1 L81.92,482.3 L82.59,481.6 L83.26,480.8 L83.93,480.0 L84.60,479.2 L85.27,478.3 L85.94,477.4 L86.61,476.5 L87.28,475.5 L87.95,474.5 L88.62,473.5 L89.29,472.5 L89.96,471.4 L90.62,470.3 L91.29,469.1 L91.96,467.9 L92.63,466.7 L93.30,465.4 L93.97,464.1 L94.64,462.8 L95.31,461.4 L95.98,460.0 L96.65,458.5 L97.32,457.0 L97.99,455.5 L98.66,453.9 L99.33,452.2 L100.00,450.5 L100.67,448.8 L101.34,447.1 L102.01,445.3 L102.68,443.4 L103.35,441.6 L104.02,439.7 L104.69,437.8 L105.36,435.8 L106.03,433.8 L106.70,431.8 L107.37,429.7 L108.04,427.6 L108.71,425.5 L109.37,423.3 L110.04,421.1 L110.71,418.9 L111.38,416.6 L112.05,414.3 L112.72,411.9 L113.39,409.5 L114.06,407.1 L114.73,404.6 L115.40,402.0 L116.07,399.4 L116.74,396.8 L117.41,394.2 L118.08,391.4 L118.75,388.7 L119.42,385.9 L120.09,383.0 L120.76,380.1 L121.43,377.2 L122.10,374.2 L122.77,371.2 L123.44,368.2 L124.11,365.1 L124.78,362.0 L125.45,358.8 L126.12,355.7 L126.79,352.5 L127.46,349.3 L128.12,346.1 L128.79,342.8 L129.46,339.6 L130.13,336.4 L130.80,333.1 L131.47,329.9 L132.14,326.6 L132.81,323.4 L133.48,320.2 L134.15,316.9 L134.82,313.7 L135.49,310.5 L136.16,307.3 L136.83,304.0 L137.50,300.8 L138.17,297.6 L138.84,294.4 L139.51,291.2 L140.18,288.0 L140.85,284.8 L141.52,281.6 L142.19,278.4 L142.86,275.2 L143.53,272.0 L144.20,268.9 L144.87,265.7 L145.54,262.5 L146.21,259.4 L146.88,256.2 L147.54,253.1 L148.21,250.0 L148.88,246.9 L149.55,243.7 L150.22,240.6 L150.89,237.5 L151.56,234.5 L152.23,231.4 L152.90,228.3 L153.57,225.2 L154.24,222.2 L154.91,219.2 L155.58,216.1 L156.25,213.1 L156.92,210.1 L157.59,207.1 L158.26,204.1 L158.93,201.1 L159.60,198.1 L160.27,195.2 L160.94,192.2 L161.61,189.3 L162.28,186.4 L162.95,183.5 L163.62,180.6 L164.29,177.7 L164.96,174.8 L165.62,171.9 L166.29,169.1 L166.96,166.2 L167.63,163.4 L168.30,160.7 L168.97,157.9 L169.64,155.2 L170.31,152.5 L170.98,149.9 L171.65,147.3 L172.32,144.7 L172.99,142.2 L173.66,139.7 L174.33,137.2 L175.00,134.8 L175.67,132.4 L176.34,130.1 L177.01,127.8 L177.68,125.6 L178.35,123.4 L179.02,121.2 L179.69,119.1 L180.36,117.0 L181.03,115.0 L181.70,113.0 L182.37,111.0 L183.04,109.1 L183.71,107.2 L184.37,105.4 L185.04,103.5 L185.71,101.8 L186.38,100.1 L187.05,98.4 L187.72,96.7 L188.39,95.1 L189.06,93.6 L189.73,92.1 L190.40,90.6 L191.07,89.1 L191.74,87.5 L192.41,86.0 L193.08,84.8 L193.75,83.6 L194.42,82.4 L195.09,81.1 L195.76,80.1 L196.43,79.1 L197.10,78.1 L197.77,77.1 L198.44,76.1 L199.11,75.3 L199.78,74.7 L200.45,74.1 L201.12,73.3 L201.79,72.3 L202.46,71.4 L203.12,70.6 L203.79,69.9 L204.46,69.2 L205.13,68.5 L205.80,67.5 L206.47,66.8 L207.14,66.3 L207.81,66.1 L208.48,65.6 L209.15,65.2 L209.82,64.4 L210.49,63.7 L211.16,62.9 L211.83,62.4 L212.50,62.1 L213.17,61.7 L213.84,61.5 L214.51,61.7 L215.18,61.1 L215.85,60.2 L216.52,59.4 L217.19,58.7 L217.86,58.5 L218.53,58.4 L219.20,58.5 L219.87,58.0 L220.54,57.8 L221.21,57.5 L221.87,57.1 L222.54,57.2 L223.21,57.2 L223.88,57.2 L224.55,56.8 L225.22,56.8 L225.89,56.8 L226.56,56.8 L227.23,56.8 L227.90,56.8 L228.57,56.8 L229.24,56.8 L229.91,56.8 L230.58,56.9 L231.25,57.7 L231.92,57.5 L232.59,57.3 L233.26,57.7 L233.93,57.9 L234.60,58.1 L235.27,58.5 L235.94,59.1 L236.61,59.1 L237.28,59.2 L237.95,59.4 L238.62,60.1 L239.29,60.1 L239.96,59.8 L240.62,59.8 L241.29,60.3 L241.96,60.4 L242.63,60.5 L243.30,60.4 L243.97,60.6 L244.64,60.4 L245.31,60.7 L245.98,60.9 L246.65,61.1 L247.32,61.2 L247.99,61.3 L248.66,61.2 L249.33,61.3 L250.00,61.2 L250.67,61.5 L251.34,61.7 L252.01,61.7 L252.68,62.3 L253.35,62.4 L254.02,63.1 L254.69,63.7 L255.36,64.0 L256.03,64.2 L256.70,64.2 L257.37,64.1 L258.04,64.5 L258.71,64.6 L259.38,65.3 L260.04,65.9 L260.71,66.5 L261.38,67.1 L262.05,67.4 L262.72,67.9 L263.39,68.4 L264.06,68.6 L264.73,68.9 L265.40,68.7 L266.07,68.7 L266.74,69.0 L267.41,69.0 L268.08,69.3 L268.75,69.6 L269.42,70.2 L270.09,70.6 L270.76,70.7 L271.43,71.0 L272.10,71.2 L272.77,71.6 L273.44,72.4 L274.11,72.7 L274.78,72.8 L275.45,73.2 L276.12,73.1 L276.79,73.2 L277.46,73.7 L278.12,74.4 L278.79,75.2 L279.46,75.5 L280.13,75.9 L280.80,75.9 L281.47,75.9 L282.14,75.8 L282.81,76.6 L283.48,76.6 L284.15,77.2 L284.82,77.3 L285.49,77.5 L286.16,77.2 L286.83,77.3 L287.50,76.9 L288.17,77.1 L288.84,77.2 L289.51,77.2 L290.18,77.5 L290.85,78.1 L291.52,78.6 L292.19,78.9 L292.86,78.8 L293.53,79.3 L294.20,79.5 L294.87,79.3 L295.54,79.1 L296.21,79.0 L296.88,79.0 L297.54,79.0 L298.21,79.1 L298.88,79.2 L299.55,79.0 L300.22,79.2 L300.89,79.8 L301.56,80.5 L302.23,81.0 L302.90,80.9 L303.57,81.2 L304.24,81.2 L304.91,82.0 L305.58,82.5 L306.25,82.5 L306.92,82.0 L307.59,81.5 L308.26,81.5 L308.93,81.4 L309.60,81.4 L310.27,81.6 L310.94,81.7 L311.61,82.5 L312.28,83.2 L312.95,83.6 L313.62,83.4 L314.29,83.1 L314.96,83.3 L315.62,83.5 L316.29,83.9 L316.96,84.0 L317.63,84.2 L318.30,84.3 L318.97,84.0 L319.64,84.5 L320.31,85.1 L320.98,85.7 L321.65,85.7 L322.32,86.1 L322.99,86.7 L323.66,86.8 L324.33,86.9 L325.00,87.2 L325.67,87.9 L326.34,88.3 L327.01,88.1 L327.68,88.6 L328.35,88.7 L329.02,89.0 L329.69,88.9 L330.36,88.8 L331.03,89.2 L331.70,89.3 L332.37,89.4 L333.04,89.7 L333.71,90.0 L334.37,90.0 L335.04,89.9 L335.71,89.8 L336.38,90.4 L337.05,90.8 L337.72,91.4 L338.39,91.4 L339.06,91.8 L339.73,92.1 L340.40,93.1 L341.07,93.7 L341.74,94.6 L342.41,94.8 L343.08,95.1 L343.75,95.0 L344.42,95.3 L345.09,95.7 L345.76,96.2 L346.43,96.8 L347.10,96.9 L347.77,97.3 L348.44,97.3 L349.11,97.0 L349.78,96.8 L350.45,97.2 L351.12,97.6 L351.79,97.8 L352.46,98.1 L353.12,98.6 L353.79,98.7 L354.46,99.0 L355.13,99.5 L355.80,100.4 L356.47,100.8 L357.14,101.0 L357.81,101.6 L358.48,101.5 L359.15,101.8 L359.82,102.5 L360.49,103.4 L361.16,103.8 L361.83,104.0 L362.50,104.3 L363.17,104.9 L363.84,105.1 L364.51,105.5 L365.18,105.7 L365.85,106.3 L366.52,106.7 L367.19,107.7 L367.86,108.1 L368.53,109.0 L369.20,110.0 L369.87,110.5 L370.54,110.8 L371.21,111.2 L371.87,111.7 L372.54,112.2 L373.21,113.3 L373.88,113.7 L374.55,114.1 L375.22,114.7 L375.89,115.3 L376.56,116.8 L377.23,117.8 L377.90,118.4 L378.57,119.0 L379.24,119.1 L379.91,120.5 L380.58,121.5 L381.25,122.3 L381.92,123.3 L382.59,123.4 L383.26,123.5 L383.93,124.2 L384.60,125.0 L385.27,125.6 L385.94,126.2 L386.61,126.9 L387.28,128.0 L387.95,128.8 L388.62,129.2 L389.29,130.0 L389.96,130.8 L390.62,131.7 L391.29,132.9 L391.96,133.3 L392.63,134.4 L393.30,134.7 L393.97,135.5 L394.64,136.3 L395.31,136.8 L395.98,137.5 L396.65,138.4 L397.32,139.8 L397.99,141.1 L398.66,142.0 L399.33,142.8 L400.00,143.6 L400.67,144.5 L401.34,145.4 L402.01,146.5 L402.68,147.8 L403.35,148.5 L404.02,149.5 L404.69,150.3 L405.36,151.5 L406.03,152.1 L406.70,153.4 L407.37,153.9 L408.04,154.0 L408.71,154.6 L409.37,155.5 L410.04,157.1 L410.71,158.0 L411.38,158.7 L412.05,159.5 L412.72,160.3 L413.39,161.6 L414.06,162.8 L414.73,163.4 L415.40,164.6 L416.07,165.6 L416.74,166.8 L417.41,167.9 L418.08,169.4 L418.75,170.5 L419.42,171.0 L420.09,171.0 L420.76,171.8 L421.43,172.3 L422.10,173.2 L422.77,174.4 L423.44,175.9 L424.11,176.9 L424.78,177.8 L425.45,178.6 L426.12,179.6 L426.79,179.9 L427.46,180.8 L428.12,182.0 L428.79,183.2 L429.46,184.7 L430.13,185.7 L430.80,186.4 L431.47,186.8 L432.14,187.9 L432.81,189.7 L433.48,190.8 L434.15,191.8 L434.82,192.6 L435.49,193.6 L436.16,194.5 L436.83,195.2 L437.50,195.9 L438.17,197.0 L438.84,198.0 L439.51,199.3 L440.18,200.5 L440.85,201.7 L441.52,203.4 L442.19,204.4 L442.86,205.3 L443.53,206.3 L444.20,207.9 L444.87,209.0 L445.54,210.3 L446.21,211.6 L446.87,212.6 L447.54,213.6 L448.21,215.1 L448.88,216.3 L449.55,218.3 L450.22,219.5 L450.89,221.0 L451.56,221.7 L452.23,222.2 L452.90,223.7 L453.57,224.5 L454.24,225.4 L454.91,226.2 L455.58,227.2 L456.25,228.3 L456.92,229.4 L457.59,230.3 L458.26,231.1 L458.93,232.1 L459.60,233.1 L460.27,234.2 L460.94,235.8 L461.61,237.2 L462.28,238.5 L462.95,240.0 L463.62,241.0 L464.29,241.9 L464.96,242.6 L465.62,243.4 L466.29,244.8 L466.96,245.7 L467.63,247.2 L468.30,248.7 L468.97,249.8 L469.64,251.3 L470.31,252.6 L470.98,253.6 L471.65,254.8 L472.32,255.9 L472.99,257.1 L473.66,257.9 L474.33,258.9 L475.00,260.2 L475.67,261.3 L476.34,263.0 L477.01,264.1 L477.68,264.6 L478.35,265.4 L479.02,266.4 L479.69,267.3 L480.36,268.0 L481.03,269.2 L481.70,270.6 L482.37,271.6 L483.04,273.0 L483.71,273.7 L484.37,274.6 L485.04,275.5 L485.71,276.9 L486.38,278.1 L487.05,279.7 L487.72,281.0 L488.39,282.7 L489.06,283.2 L489.73,284.2 L490.40,285.2 L491.07,286.5 L491.74,287.5 L492.41,288.4 L493.08,289.0 L493.75,290.2 L494.42,290.7 L495.09,291.4 L495.76,292.4 L496.43,293.9 L497.10,295.9 L497.77,297.0 L498.44,298.5 L499.11,299.3 L499.78,299.9 L500.45,300.6 L501.12,302.0 L501.79,303.0 L502.46,303.9 L503.12,304.4 L503.79,305.6 L504.46,306.1 L505.13,306.8 L505.80,307.4 L506.47,308.2 L507.14,309.2 L507.81,310.6 L508.48,311.8 L509.15,313.0 L509.82,314.1 L510.49,315.8 L511.16,316.8 L511.83,317.8 L512.50,319.2 L513.17,319.7 L513.84,320.2 L514.51,320.7 L515.18,321.9 L515.85,323.0 L516.52,323.9 L517.19,325.2 L517.86,326.2 L518.53,326.8 L519.20,327.7 L519.87,328.6 L520.54,329.7 L521.21,330.7 L521.88,331.6 L522.54,332.2 L523.21,332.8 L523.88,333.9 L524.55,334.4 L525.22,335.4 L525.89,336.5 L526.56,337.1 L527.23,338.3 L527.90,339.5 L528.57,340.7 L529.24,341.5 L529.91,342.0 L530.58,342.8 L531.25,343.4 L531.92,344.2 L532.59,345.4 L533.26,346.4 L533.93,347.2 L534.60,347.7 L535.27,349.0 L535.94,350.0 L536.61,351.0 L537.28,351.4 L537.95,352.1 L538.62,353.1 L539.29,353.8 L539.96,354.8 L540.62,355.6 L541.29,356.4 L541.96,357.0 L542.63,357.9 L543.30,358.4 L543.97,359.1 L544.64,359.6 L545.31,360.6 L545.98,361.9 L546.65,362.5 L547.32,363.2 L547.99,363.5 L548.66,363.7 L549.33,364.1 L550.00,364.9 L550.67,366.2 L551.34,367.3 L552.01,368.4 L552.68,369.4 L553.35,370.0 L554.02,370.9 L554.69,371.8 L555.36,372.7 L556.03,372.9 L556.70,373.4 L557.37,373.9 L558.04,374.5 L558.71,375.2 L559.38,376.0 L560.04,376.6 L560.71,377.2 L561.38,378.4 L562.05,379.6 L562.72,380.5 L563.39,381.2 L564.06,382.1 L564.73,382.9 L565.40,383.5 L566.07,384.0 L566.74,384.9 L567.41,385.1 L568.08,385.9 L568.75,386.9 L569.42,387.4 L570.09,388.0 L570.76,388.1 L571.43,389.1 L572.10,389.7 L572.77,389.3 L573.44,389.4 L574.11,389.6 L574.78,390.3 L575.45,391.5 L576.12,392.2 L576.79,392.6 L577.46,392.8 L578.12,393.4 L578.79,394.6 L579.46,395.6 L580.13,396.3 L580.80,396.9 L581.47,397.2 L582.14,397.6 L582.81,398.3 L583.48,399.2 L584.15,400.1 L584.82,400.6 L585.49,401.2 L586.16,401.0 L586.83,401.2 L587.50,401.7 L588.17,402.4 L588.84,403.5 L589.51,403.6 L590.18,403.8 L590.85,404.3 L591.52,405.0 L592.19,406.0 L592.86,406.6 L593.53,407.1 L594.20,407.8 L594.87,408.2 L595.54,408.9 L596.21,409.6 L596.88,410.1 L597.54,410.9 L598.21,411.6 L598.88,411.9 L599.55,412.3 L600.22,413.1 L600.89,413.3 L601.56,413.4 L602.23,413.4 L602.90,413.9 L603.57,414.4 L604.24,414.5 L604.91,414.7 L605.58,415.5 L606.25,415.6 L606.92,416.6 L607.59,417.7 L608.26,418.6 L608.93,419.4 L609.60,419.5 L610.27,419.6 L610.94,420.0 L611.61,420.1 L612.28,420.5 L612.95,420.6 L613.62,420.9 L614.29,421.2 L614.96,422.5 L615.62,423.7 L616.29,424.7 L616.96,424.7 L617.63,424.9 L618.30,425.0 L618.97,425.6 L619.64,426.4 L620.31,427.0 L620.98,427.4 L621.65,427.5 L622.32,427.9 L622.99,428.2 L623.66,428.2 L624.33,428.3 L625.00,428.6 L625.67,429.6 L626.34,430.4 L627.01,430.9 L627.68,430.9 L628.35,430.6 L629.02,430.4 L629.69,430.6 L630.36,431.3 L631.03,431.8 L631.70,432.2 L632.37,432.6 L633.04,433.3 L633.71,433.6"/>
<path stroke="#000080" d="M58.93,496.8 L59.60,496.8 L60.27,496.8 L60.94,496.8 L61.61,496.8 L62.28,496.8 L62.95,496.8 L63.62,496.8 L64.29,496.8 L64.96,496.8 L65.62,496.8 L66.29,496.6 L66.96,496.5 L67.63,496.3 L68.30,496.1 L68.97,495.9 L69.64,495.6 L70.31,495.3 L70.98,495.0 L71.65,494.7 L72.32,494.3 L72.99,494.0 L73.66,493.6 L74.33,493.1 L75.00,492.7 L75.67,492.2 L76.34,491.7 L77.01,491.2 L77.68,490.7 L78.35,490.1 L79.02,489.5 L79.69,488.9 L80.36,488.3 L81.03,487.6 L81.70,486.9 L82.37,486.2 L83.04,485.5 L83.71,484.8 L84.37,484.0 L85.04,483.2 L85.71,482.4 L86.38,481.6 L87.05,480.7 L87.72,479.8 L88.39,479.0 L89.06,478.0 L89.73,477.1 L90.40,476.2 L91.07,475.2 L91.74,474.2 L92.41,473.2 L93.08,472.2 L93.75,471.1 L94.42,470.1 L95.09,469.0 L95.76,467.8 L96.43,466.7 L97.10,465.5 L97.77,464.3 L98.44,463.1 L99.11,461.8 L99.78,460.5 L100.45,459.2 L101.12,457.8 L101.79,456.4 L102.46,455.0 L103.12,453.5 L103.79,452.0 L104.46,450.4 L105.13,448.8 L105.80,447.2 L106.47,445.5 L107.14,443.8 L107.81,442.0 L108.48,440.2 L109.15,438.3 L109.82,436.4 L110.49,434.4 L111.16,432.3 L111.83,430.2 L112.50,428.1 L113.17,425.9 L113.84,423.6 L114.51,421.3 L115.18,418.9 L115.85,416.5 L116.52,414.0 L117.19,411.5 L117.86,408.9 L118.53,406.3 L119.20,403.7 L119.87,401.0 L120.54,398.3 L121.21,395.6 L121.87,392.8 L122.54,390.0 L123.21,387.1 L123.88,384.2 L124.55,381.3 L125.22,378.4 L125.89,375.4 L126.56,372.4 L127.23,369.4 L127.90,366.3 L128.57,363.2 L129.24,360.1 L129.91,357.0 L130.58,353.9 L131.25,350.7 L131.92,347.5 L132.59,344.4 L133.26,341.2 L133.93,338.0 L134.60,334.9 L135.27,331.7 L135.94,328.5 L136.61,325.4 L137.28,322.2 L137.95,319.1 L138.62,316.0 L139.29,312.9 L139.96,309.9 L140.62,306.8 L141.29,303.8 L141.96,300.8 L142.63,297.9 L143.30,295.0 L143.97,292.1 L144.64,289.2 L145.31,286.4 L145.98,283.6 L146.65,280.9 L147.32,278.1 L147.99,275.4 L148.66,272.7 L149.33,270.0 L150.00,267.3 L150.67,264.6 L151.34,261.9 L152.01,259.2 L152.68,256.5 L153.35,253.7 L154.02,250.9 L154.69,248.1 L155.36,245.2 L156.03,242.2 L156.70,239.2 L157.37,236.1 L158.04,233.0 L158.71,229.7 L159.37,226.3 L160.04,222.8 L160.71,219.3 L161.38,215.7 L162.05,212.1 L162.72,208.5 L163.39,204.9 L164.06,201.4 L164.73,198.0 L165.40,194.7 L166.07,191.4 L166.74,188.3 L167.41,185.3 L168.08,182.3 L168.75,179.5 L169.42,176.8 L170.09,174.3 L170.76,171.7 L171.43,169.3 L172.10,166.9 L172.77,164.6 L173.44,162.3 L174.11,160.1 L174.78,157.9 L175.45,155.7 L176.12,153.6 L176.79,151.5 L177.46,149.4 L178.12,147.4 L178.79,145.3 L179.46,143.3 L180.13,141.3 L180.80,139.3 L181.47,137.3 L182.14,135.3 L182.81,133.3 L183.48,131.3 L184.15,129.3 L184.82,127.3 L185.49,125.2 L186.16,123.1 L186.83,121.2 L187.50,119.2 L188.17,117.3 L188.84,115.3 L189.51,113.4 L190.18,111.3 L190.85,109.2 L191.52,107.1 L192.19,104.9 L192.86,102.8 L193.53,101.0 L194.20,99.4 L194.87,97.6 L195.54,95.4 L196.21,93.9 L196.87,92.5 L197.54,91.5 L198.21,90.7 L198.88,88.9 L199.55,87.5 L200.22,85.8 L200.89,84.7 L201.56,83.5 L202.23,82.4 L202.90,81.3 L203.57,80.0 L204.24,78.6 L204.91,78.2 L205.58,76.7 L206.25,75.7 L206.92,74.0 L207.59,73.3 L208.26,72.3 L208.93,71.4 L209.60,70.2 L210.27,69.6 L210.94,68.9 L211.61,69.2 L212.28,68.8 L212.95,67.9 L213.62,66.8 L214.29,66.1 L214.96,65.6 L215.62,65.2 L216.29,64.8 L216.96,64.6 L217.63,64.3 L218.30,63.6 L218.97,63.8 L219.64,63.1 L220.31,62.3 L220.98,61.3 L221.65,61.3 L222.32,61.0 L222.99,60.6 L223.66,60.3 L224.33,60.0 L225.00,59.6 L225.67,59.5 L226.34,58.3 L227.01,58.5 L227.68,57.6 L228.35,58.6 L229.02,57.9 L229.69,57.3 L230.36,57.5 L231.03,57.7 L231.70,58.3 L232.37,59.1 L233.04,58.0 L233.71,57.9 L234.37,57.6 L235.04,58.8 L235.71,59.2 L236.38,58.6 L237.05,58.2 L237.72,58.7 L238.39,58.8 L239.06,59.3 L239.73,58.6 L240.40,58.0 L241.07,57.8 L241.74,57.6 L242.41,57.7 L243.08,57.8 L243.75,57.3 L244.42,57.7 L245.09,57.7 L245.76,58.6 L246.43,58.5 L247.10,57.1 L247.77,56.8 L248.44,56.8 L249.11,57.6 L249.78,58.9 L250.45,58.9 L251.12,58.9 L251.79,58.5 L252.46,57.6 L253.12,58.6 L253.79,57.7 L254.46,58.6 L255.13,58.3 L255.80,58.0 L256.47,57.6 L257.14,58.1 L257.81,58.0 L258.48,59.1 L259.15,58.6 L259.82,58.9 L260.49,58.9 L261.16,58.4 L261.83,59.4 L262.50,59.2 L263.17,59.9 L263.84,60.9 L264.51,61.3 L265.18,61.7 L265.85,62.0 L266.52,62.8 L267.19,63.1 L267.86,63.4 L268.53,64.3 L269.20,63.9 L269.87,64.4 L270.54,65.2 L271.21,65.9 L271.88,66.2 L272.54,66.0 L273.21,66.1 L273.88,65.7 L274.55,65.9 L275.22,66.4 L275.89,68.0 L276.56,68.6 L277.23,68.7 L277.90,68.3 L278.57,69.0 L279.24,69.9 L279.91,69.9 L280.58,70.3 L281.25,71.5 L281.92,71.9 L282.59,72.5 L283.26,72.6 L283.93,72.7 L284.60,71.6 L285.27,70.7 L285.94,70.7 L286.61,70.6 L287.28,70.4 L287.95,70.7 L288.62,71.2 L289.29,71.4 L289.96,71.5 L290.62,71.7 L291.29,71.6 L291.96,71.7 L292.63,72.0 L293.30,72.2 L293.97,72.0 L294.64,71.6 L295.31,71.9 L295.98,71.9 L296.65,71.7 L297.32,72.7 L297.99,72.0 L298.66,71.3 L299.33,70.7 L300.00,71.6 L300.67,71.6 L301.34,71.0 L302.01,72.1 L302.68,73.0 L303.35,73.1 L304.02,73.8 L304.69,73.8 L305.36,74.6 L306.03,74.4 L306.70,74.8 L307.37,75.4 L308.04,75.0 L308.71,75.3 L309.37,75.2 L310.04,74.6 L310.71,75.4 L311.38,74.2 L312.05,73.9 L312.72,74.1 L313.39,74.1 L314.06,74.3 L314.73,74.2 L315.40,74.8 L316.07,76.5 L316.74,76.8 L317.41,77.2 L318.08,75.9 L318.75,75.0 L319.42,74.4 L320.09,74.7 L320.76,76.4 L321.43,78.0 L322.10,78.4 L322.77,78.0 L323.44,78.6 L324.11,79.4 L324.78,79.0 L325.45,78.3 L326.12,78.2 L326.79,78.2 L327.46,78.9 L328.12,79.2 L328.79,79.3 L329.46,79.2 L330.13,78.9 L330.80,79.4 L331.47,80.0 L332.14,80.3 L332.81,79.7 L333.48,79.9 L334.15,80.3 L334.82,81.1 L335.49,81.5 L336.16,82.9 L336.83,83.8 L337.50,83.4 L338.17,84.1 L338.84,84.6 L339.51,84.1 L340.18,83.7 L340.85,82.6 L341.52,82.7 L342.19,82.9 L342.86,83.6 L343.53,85.0 L344.20,85.9 L344.87,85.6 L345.54,86.6 L346.21,86.4 L346.87,86.6 L347.54,86.4 L348.21,86.8 L348.88,86.4 L349.55,85.8 L350.22,86.4 L350.89,87.7 L351.56,87.9 L352.23,88.0 L352.90,88.6 L353.57,89.0 L354.24,88.1 L354.91,89.0 L355.58,89.7 L356.25,89.6 L356.92,90.1 L357.59,91.0 L358.26,91.8 L358.93,91.9 L359.60,92.1 L360.27,92.9 L360.94,92.5 L361.61,92.3 L362.28,93.7 L362.95,95.0 L363.62,95.6 L364.29,95.6 L364.96,96.1 L365.62,96.7 L366.29,97.0 L366.96,98.0 L367.63,98.8 L368.30,98.5 L368.97,98.1 L369.64,98.1 L370.31,98.4 L370.98,99.3 L371.65,99.3 L372.32,100.1 L372.99,99.8 L373.66,99.9 L374.33,100.0 L375.00,100.6 L375.67,102.3 L376.34,102.1 L377.01,102.3 L377.68,103.1 L378.35,104.1 L379.02,106.1 L379.69,107.9 L380.36,109.4 L381.03,109.5 L381.70,108.3 L382.37,109.1 L383.04,109.9 L383.71,110.8 L384.37,110.8 L385.04,110.3 L385.71,110.3 L386.38,110.7 L387.05,111.8 L387.72,113.0 L388.39,114.2 L389.06,115.1 L389.73,115.9 L390.40,117.1 L391.07,118.3 L391.74,119.3 L392.41,118.8 L393.08,118.2 L393.75,118.0 L394.42,119.2 L395.09,119.4 L395.76,119.9 L396.43,120.5 L397.10,120.6 L397.77,121.2 L398.44,123.2 L399.11,124.3 L399.78,125.2 L400.45,125.0 L401.12,126.1 L401.79,126.3 L402.46,127.1 L403.12,128.3 L403.79,129.1 L404.46,129.7 L405.13,131.1 L405.80,131.6 L406.47,132.7 L407.14,133.1 L407.81,134.0 L408.48,134.7 L409.15,136.0 L409.82,136.7 L410.49,137.5 L411.16,137.8 L411.83,139.6 L412.50,140.0 L413.17,139.6 L413.84,139.6 L414.51,140.0 L415.18,141.4 L415.85,143.4 L416.52,144.5 L417.19,145.6 L417.86,145.4 L418.53,146.4 L419.20,147.4 L419.87,148.6 L420.54,150.1 L421.21,151.6 L421.87,153.0 L422.54,154.2 L423.21,155.0 L423.88,155.7 L424.55,156.2 L425.22,157.2 L425.89,157.5 L426.56,157.9 L427.23,158.9 L427.90,160.4 L428.57,162.0 L429.24,163.9 L429.91,165.1 L430.58,165.8 L431.25,166.0 L431.92,166.5 L432.59,168.0 L433.26,168.1 L433.93,169.4 L434.60,169.9 L435.27,170.1 L435.94,170.7 L436.61,172.3 L437.28,173.8 L437.95,175.8 L438.62,176.0 L439.29,176.4 L439.96,177.5 L440.62,179.2 L441.29,181.1 L441.96,181.9 L442.63,182.3 L443.30,184.1 L443.97,185.9 L444.64,186.5 L445.31,187.3 L445.98,187.7 L446.65,190.0 L447.32,190.2 L447.99,192.4 L448.66,192.6 L449.33,195.1 L450.00,195.4 L450.67,196.6 L451.34,198.2 L452.01,199.1 L452.68,199.5 L453.35,200.0 L454.02,200.3 L454.69,201.5 L455.36,201.7 L456.03,203.3 L456.70,204.7 L457.37,205.6 L458.04,207.0 L458.71,208.4 L459.37,211.1 L460.04,211.9 L460.71,213.6 L461.38,215.2 L462.05,217.0 L462.72,218.1 L463.39,219.2 L464.06,219.8 L464.73,221.1 L465.40,222.6 L466.07,225.1 L466.74,225.9 L467.41,226.4 L468.08,226.6 L468.75,228.1 L469.42,229.2 L470.09,230.1 L470.76,230.9 L471.43,231.1 L472.10,232.8 L472.77,234.8 L473.44,235.2 L474.11,236.1 L474.78,236.7 L475.45,238.5 L476.12,239.7 L476.79,241.0 L477.46,242.7 L478.12,244.3 L478.79,245.6 L479.46,247.2 L480.13,249.0 L480.80,250.3 L481.47,251.3 L482.14,251.9 L482.81,253.1 L483.48,253.4 L484.15,253.0 L484.82,253.5 L485.49,254.6 L486.16,255.7 L486.83,257.1 L487.50,258.5 L488.17,259.6 L488.84,260.9 L489.51,262.5 L490.18,263.1 L490.85,264.3 L491.52,265.1 L492.19,267.0 L492.86,268.5 L493.53,269.5 L494.20,271.3 L494.87,271.9 L495.54,273.1 L496.21,274.2 L496.87,275.4 L497.54,276.9 L498.21,277.3 L498.88,278.2 L499.55,279.5 L500.22,280.6 L500.89,281.4 L501.56,282.4 L502.23,283.0 L502.90,283.5 L503.57,282.8 L504.24,283.7 L504.91,284.7 L505.58,287.1 L506.25,288.1 L506.92,288.9 L507.59,289.8 L508.26,290.8 L508.93,291.3 L509.60,292.1 L510.27,293.8 L510.94,296.0 L511.61,297.2 L512.28,298.8 L512.95,299.8 L513.62,299.9 L514.29,299.9 L514.96,301.1 L515.62,301.7 L516.29,302.7 L516.96,303.4 L517.63,305.0 L518.30,306.3 L518.97,307.7 L519.64,309.3 L520.31,309.6 L520.98,310.5 L521.65,310.9 L522.32,312.0 L522.99,312.1 L523.66,313.3 L524.33,315.4 L525.00,316.8 L525.67,317.8 L526.34,318.4 L527.01,318.7 L527.68,318.9 L528.35,319.9 L529.02,321.8 L529.69,323.1 L530.36,323.6 L531.03,325.2 L531.70,326.8 L532.37,327.8 L533.04,328.5 L533.71,328.4 L534.38,328.6 L535.04,328.9 L535.71,329.7 L536.38,331.1 L537.05,331.9 L537.72,332.9 L538.39,334.2 L539.06,334.1 L539.73,334.0 L540.40,335.1 L541.07,336.9 L541.74,338.8 L542.41,339.2 L543.08,340.4 L543.75,341.0 L544.42,341.8 L545.09,343.5 L545.76,345.7 L546.43,344.7 L547.10,344.5 L547.77,344.8 L548.44,345.9 L549.11,348.3 L549.78,349.8 L550.45,350.3 L551.12,349.6 L551.79,349.5 L552.46,351.4 L553.12,352.4 L553.79,353.6 L554.46,355.2 L555.13,356.3 L555.80,356.7 L556.47,357.7 L557.14,357.9 L557.81,357.7 L558.48,358.4 L559.15,359.5 L559.82,360.6 L560.49,361.6 L561.16,362.2 L561.83,364.1 L562.50,364.2 L563.17,364.8 L563.84,364.6 L564.51,364.7 L565.18,365.2 L565.85,366.2 L566.52,367.4 L567.19,367.9 L567.86,368.4 L568.53,369.1 L569.20,369.3 L569.87,369.7 L570.54,370.4 L571.21,371.0 L571.88,372.8 L572.54,374.1 L573.21,375.7 L573.88,375.7 L574.55,376.3 L575.22,376.4 L575.89,377.4 L576.56,378.4 L577.23,379.6 L577.90,380.1 L578.57,380.0 L579.24,380.1 L579.91,380.7 L580.58,381.6 L581.25,383.0 L581.92,383.5 L582.59,383.4 L583.26,383.4 L583.93,383.5 L584.60,384.6 L585.27,385.7 L585.94,387.8 L586.61,388.6 L587.28,389.2 L587.95,389.1 L588.62,389.0 L589.29,389.9 L589.96,390.7 L590.62,390.8 L591.29,391.0 L591.96,391.6 L592.63,394.1 L593.30,395.1 L593.97,395.2 L594.64,395.6 L595.31,396.2 L595.98,396.0 L596.65,395.9 L597.32,396.4 L597.99,397.1 L598.66,398.2 L599.33,398.8 L600.00,399.1 L600.67,399.0 L601.34,399.2 L602.01,400.0 L602.68,400.6 L603.35,400.8 L604.02,400.9 L604.69,401.7 L605.36,402.3 L606.03,403.3 L606.70,404.1 L607.37,405.6 L608.04,405.6 L608.71,406.2 L609.37,406.3 L610.04,407.8 L610.71,408.3 L611.38,409.6 L612.05,410.1 L612.72,410.4 L613.39,410.6 L614.06,411.3 L614.73,411.5 L615.40,411.1 L616.07,410.9 L616.74,411.1 L617.41,411.9 L618.08,412.2 L618.75,413.2 L619.42,414.0 L620.09,414.9 L620.76,415.7 L621.43,415.7 L622.10,416.4 L622.77,416.9 L623.44,417.6 L624.11,418.5 L624.78,417.6 L625.45,416.8 L626.12,416.3 L626.79,416.8 L627.46,418.4 L628.12,419.3 L628.79,420.6 L629.46,421.3 L630.13,421.5 L630.80,421.7 L631.47,422.3 L632.14,423.0 L632.81,423.5 L633.48,423.6"/>
</g>
<rect x="60.0" y="13.4" width="650.7" height="483.8" fill="none" stroke="#000" stroke-width="4" stroke-linejoin="round"/>
<g stroke="#000" stroke-width="3.3" stroke-linecap="round">
<line x1="118.8" y1="497.2" x2="118.8" y2="506.6"/>
<line x1="192.8" y1="497.2" x2="192.8" y2="502.6"/>
<line x1="266.8" y1="497.2" x2="266.8" y2="506.6"/>
<line x1="340.8" y1="497.2" x2="340.8" y2="502.6"/>
<line x1="414.7" y1="497.2" x2="414.7" y2="506.6"/>
<line x1="488.7" y1="497.2" x2="488.7" y2="502.6"/>
<line x1="562.7" y1="497.2" x2="562.7" y2="506.6"/>
<line x1="636.7" y1="497.2" x2="636.7" y2="502.6"/>
<line x1="710.7" y1="497.2" x2="710.7" y2="506.6"/>
</g>
<g font-family="'Liberation Serif', 'Times New Roman', serif" fill="#000" style="font-kerning:none">
<text transform="translate(118.8,534.3) scale(1,1.1)" font-size="28.4" text-anchor="middle">500</text>
<text transform="translate(266.8,534.3) scale(1,1.1)" font-size="28.4" text-anchor="middle">550</text>
<text transform="translate(414.7,534.3) scale(1,1.1)" font-size="28.4" text-anchor="middle">600</text>
<text transform="translate(562.7,534.3) scale(1,1.1)" font-size="28.4" text-anchor="middle">650</text>
<text transform="translate(710.7,534.3) scale(1,1.1)" font-size="28.4" text-anchor="middle">700</text>
<text transform="translate(385.3,566) scale(1,1.08)" font-size="28.85" font-weight="bold" text-anchor="middle">Wavelength (nm)</text>
<text transform="translate(41.9,255.6) rotate(-90) scale(1.04,1)" font-size="28.3" font-weight="bold" text-anchor="middle">Normalized Intensity (a.u.)</text>
</g>
</svg>
</body></html>
